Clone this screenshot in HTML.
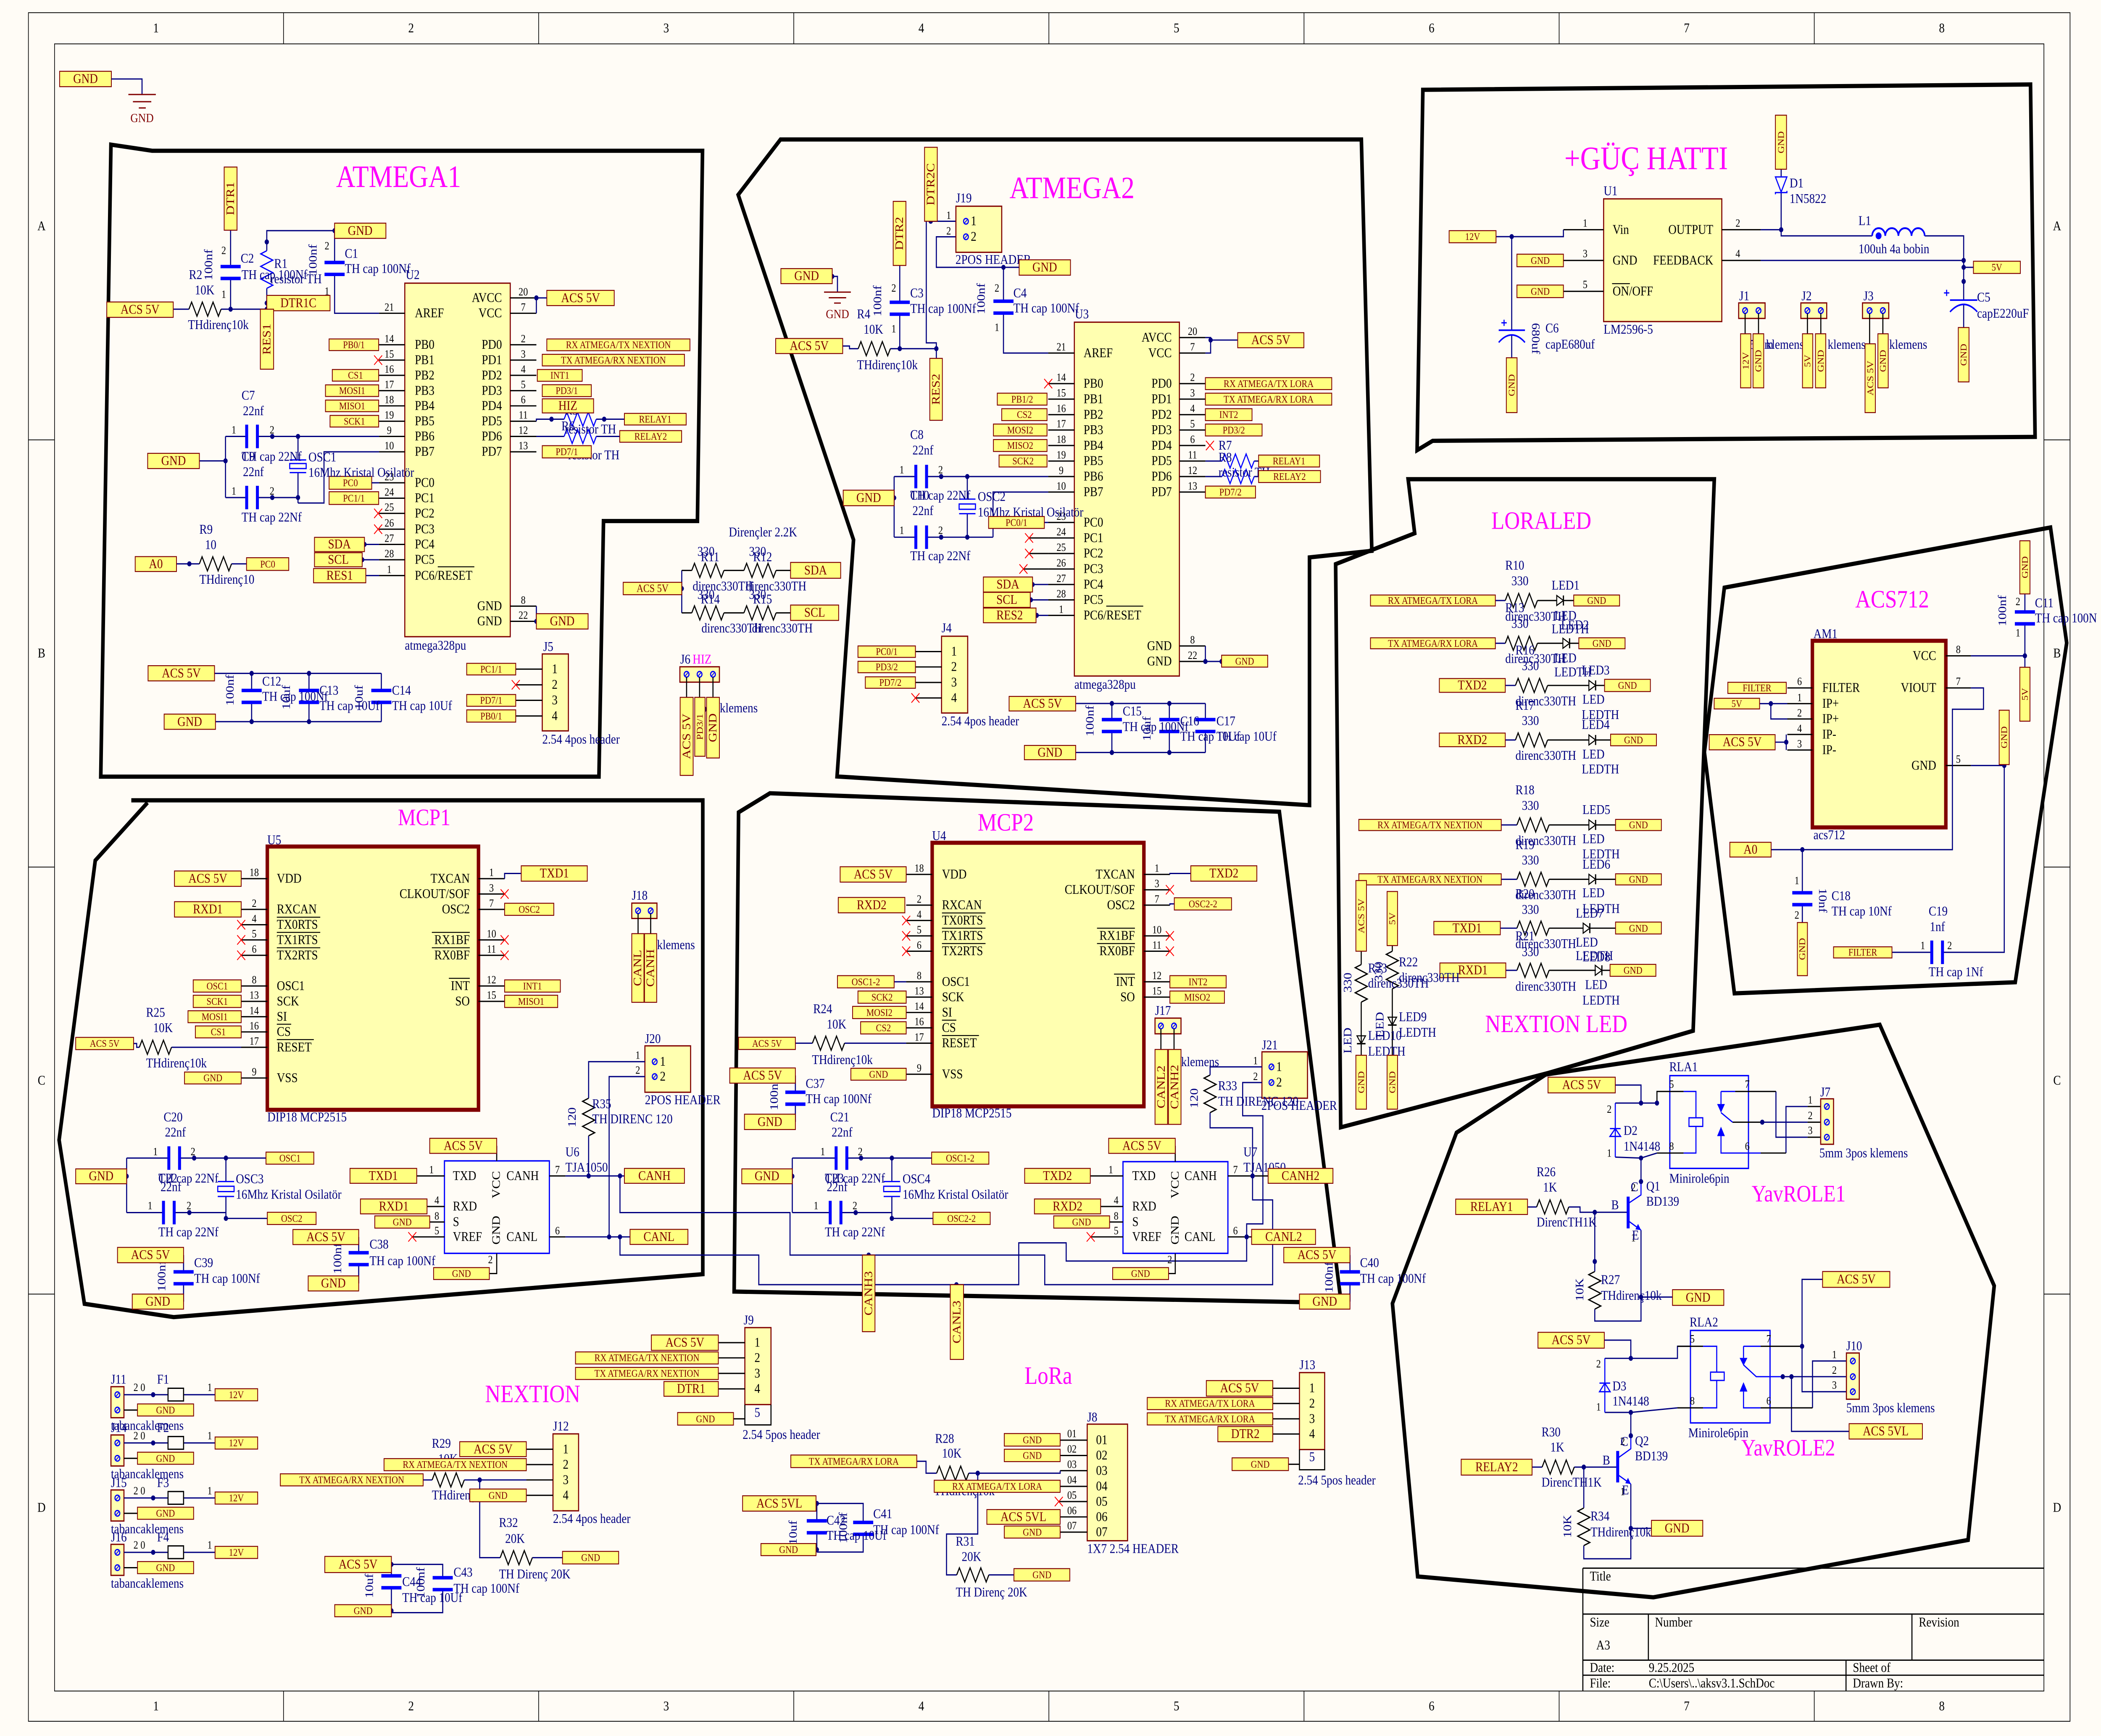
<!DOCTYPE html>
<html><head><meta charset="utf-8"><title>aksv3.1 schematic</title>
<style>
html,body{margin:0;padding:0;background:#fffcf6;overflow:hidden;width:100%;height:100%}
svg{display:block;width:100vw;height:100vh}
text{font-family:"Liberation Serif","DejaVu Serif",serif;font-size:8.5px;fill:#000080;dominant-baseline:central}
.n text{fill:#800000;text-anchor:middle}
.s{font-size:6.5px}
.pn text{fill:#000;font-size:7px;text-anchor:middle}
.pm text{fill:#000}
text.e{text-anchor:end}
text.m{text-anchor:middle}
text.g{fill:#ff00ff}
.ft text{fill:#000}
.w{fill:none;stroke:#000080;stroke-width:.8}
.k{fill:none;stroke:#000;stroke-width:.8}
.b{fill:none;stroke:#0000ff;stroke-width:.8}
.r{fill:#ffff80;stroke:#800000;stroke-width:.6}
.ic{fill:#ffffb0;stroke:#800000;stroke-width:.8}
.icb{fill:#ffffb0;stroke:#800000;stroke-width:2.6}
.rg{fill:none;stroke:#000;stroke-width:2.7;stroke-linejoin:miter}
.f{fill:none;stroke:#000;stroke-width:.5}
.ul{fill:none;stroke:#000;stroke-width:.6}
</style></head><body>
<svg xmlns="http://www.w3.org/2000/svg" viewBox="0 0 1568 1107.8" preserveAspectRatio="none">
<defs>
<path id="rh" d="M0,0l2,-4.5l4,9l4,-9l4,9l4,-9l4,9l2,-4.5" fill="none" stroke="#000" stroke-width=".8"/>
<path id="rhb" d="M0,0l2,-4.5l4,9l4,-9l4,9l4,-9l4,9l2,-4.5" fill="none" stroke="#0000ff" stroke-width=".8"/>
<path id="rv" d="M0,0l-4.5,2l9,4l-9,4l9,4l-9,4l9,4l-4.5,2" fill="none" stroke="#000" stroke-width=".8"/>
<path id="rvb" d="M0,0l-4.5,2l9,4l-9,4l9,4l-9,4l9,4l-4.5,2" fill="none" stroke="#0000ff" stroke-width=".8"/>
<path id="cv" d="M-7.5,-3.8h15M-7.5,3.8h15" fill="none" stroke="#0000ff" stroke-width="2.2"/>
<path id="chz" d="M-4,-7.5v15M4,-7.5v15" fill="none" stroke="#0000ff" stroke-width="2.2"/>
<circle id="d" r="1.6" fill="#000080"/>
<path id="x" d="M-3,-3l6,6M3,-3l-6,6" fill="none" stroke="#ff0000" stroke-width=".6"/>
<g id="pc"><circle r="1.8" fill="none" stroke="#0000ff" stroke-width=".8"/><path d="M-1.2,1.2L1.2,-1.2" stroke="#0000ff" stroke-width=".6"/></g>
<g id="led"><path d="M-2.5,-3.2L2.5,0L-2.5,3.2Z" fill="none" stroke="#000" stroke-width=".7"/><path d="M2.5,-3.2V3.2" stroke="#000" stroke-width=".9"/></g>
</defs>

<!-- ===== FRAME ===== -->
<rect x="21.2" y="8.1" width="1523.7" height="1090.3" class="f"/>
<rect x="40.7" y="28" width="1484.7" height="1051.1" class="f"/>
<path class="f" d="M211.6,8.1V28M402,8.1V28M592.4,8.1V28M782.8,8.1V28M973.2,8.1V28M1163.6,8.1V28M1354,8.1V28M211.6,1079.1V1098.4M402,1079.1V1098.4M592.4,1079.1V1098.4M782.8,1079.1V1098.4M973.2,1079.1V1098.4M1163.6,1079.1V1098.4M1354,1079.1V1098.4M21.2,280.7H40.7M21.2,553.3H40.7M21.2,825.8H40.7M1525.4,280.7H1544.9M1525.4,553.3H1544.9M1525.4,825.8H1544.9"/>
<g class="ft">
<text class="m" x="116.4" y="18">1</text><text class="m" x="306.8" y="18">2</text><text class="m" x="497.2" y="18">3</text><text class="m" x="687.6" y="18">4</text><text class="m" x="878" y="18">5</text><text class="m" x="1068.4" y="18">6</text><text class="m" x="1258.8" y="18">7</text><text class="m" x="1449.2" y="18">8</text>
<text class="m" x="116.4" y="1088.8">1</text><text class="m" x="306.8" y="1088.8">2</text><text class="m" x="497.2" y="1088.8">3</text><text class="m" x="687.6" y="1088.8">4</text><text class="m" x="878" y="1088.8">5</text><text class="m" x="1068.4" y="1088.8">6</text><text class="m" x="1258.8" y="1088.8">7</text><text class="m" x="1449.2" y="1088.8">8</text>
<text class="m" x="31" y="144.4">A</text><text class="m" x="31" y="417">B</text><text class="m" x="31" y="689.6">C</text><text class="m" x="31" y="962.2">D</text>
<text class="m" x="1535.2" y="144.4">A</text><text class="m" x="1535.2" y="417">B</text><text class="m" x="1535.2" y="689.6">C</text><text class="m" x="1535.2" y="962.2">D</text>
</g>

<!-- ===== TITLE BLOCK ===== -->
<path fill="none" stroke="#000" stroke-width=".8" d="M1181.3,1000.7H1525.4M1181.3,1000.7V1079.1M1181.3,1030H1525.4M1181.3,1059.4H1525.4M1181.3,1069H1525.4M1230.2,1030V1059.4M1426.9,1030V1059.4M1377.7,1059.4V1079.1"/>
<g class="ft" style="font-size:8px">
<text x="1186.5" y="1006">Title</text>
<text x="1186.5" y="1035.3">Size</text><text x="1235.1" y="1035.3">Number</text><text x="1432" y="1035.3">Revision</text>
<text x="1191.3" y="1050">A3</text>
<text x="1186.5" y="1064.3">Date:</text><text x="1230.5" y="1064.3">9.25.2025</text><text x="1382.8" y="1064.3">Sheet   of</text>
<text x="1186.5" y="1074.2">File:</text><text x="1230.5" y="1074.2">C:\Users\..\aksv3.1.SchDoc</text><text x="1382.8" y="1074.2">Drawn By:</text>
</g>

<!-- ===== REGION POLYGONS ===== -->
<polygon class="rg" points="82.8,92.3 113.5,96.2 524.3,96.2 520.5,332.5 450.4,332.5 447,495.6 75.2,495.6"/>
<polygon class="rg" points="582.5,89 1016,89 1023.8,351.5 977.3,355.7 977.3,513.8 624.7,495.5 637,344.5 550.9,124.3"/>
<polygon class="rg" points="1061.9,57.3 1515.4,53.9 1518.8,278.8 1069.2,281.3 1057.6,287.3"/>
<polygon class="rg" points="1050.9,305.8 1279.4,305.8 1263.6,657.8 1155.4,684.7 1000.6,719.4 996.8,360 1055.8,340.3"/>
<polygon class="rg" points="1286.9,375 1530.3,336.6 1542.4,410.3 1504,626.8 1294.4,633.9 1272,480"/>
<polyline class="rg" points="98,510.7 524.5,510.7 524.5,813.1 129.6,840.5 63,832 44.1,727.5 71.1,549.1 110.1,512.2"/>
<polygon class="rg" points="574.6,506.2 954.8,518 1001,832 969.8,830.9 547.9,824.2 551.2,518.4"/>
<polygon class="rg" points="1087,722.8 1153.6,685.7 1402.9,653.9 1488.3,820.5 1468.8,982.7 1233.9,1019.3 1058,1006 1039.2,831.8"/>

<!-- ===== TOP-LEFT GND ===== -->
<rect class="r" x="44.5" y="45.5" width="38.6" height="9.8"/>
<path class="w" d="M83.1,50.4H106V60.3"/>
<path d="M95.8,60.3H116.3M99.2,64.9H112.9M103.6,68.9H108.8" stroke="#800000" stroke-width=".8"/>
<g class="n"><text x="63.8" y="50.4">GND</text><text x="106" y="75.4" style="font-size:8px">GND</text></g>

<!-- ===== ATMEGA1 ===== -->
<text class="g" x="250.8" y="112.8" style="font-size:20px">ATMEGA1</text>
<rect class="ic" x="302.1" y="180.7" width="78.7" height="225.6"/>
<path class="k" d="M282.9,199.9h19.2M282.9,220h19.2M282.9,229.8h19.2M282.9,239.5h19.2M282.9,249.3h19.2M282.9,259h19.2M282.9,268.8h19.2M282.9,278.5h19.2M282.9,288.3h19.2M282.9,308.1h19.2M282.9,317.9h19.2M282.9,327.6h19.2M282.9,337.7h19.2M282.9,347.4h19.2M282.9,357.2h19.2M282.9,367.3h19.2M380.8,190.1h19.5M380.8,199.9h19.5M380.8,220h19.5M380.8,229.8h19.5M380.8,239.5h19.5M380.8,249.3h19.5M380.8,259h19.5M380.8,268.8h19.5M380.8,278.5h19.5M380.8,288.3h19.5M380.8,386.8h19.5M380.8,396.5h19.5"/>
<path class="ul" d="M326.7,361.7H354"/>
<g class="pm">
<text x="309.6" y="199.9">AREF</text><text x="309.6" y="220">PB0</text><text x="309.6" y="229.8">PB1</text><text x="309.6" y="239.5">PB2</text><text x="309.6" y="249.3">PB3</text><text x="309.6" y="259">PB4</text><text x="309.6" y="268.8">PB5</text><text x="309.6" y="278.5">PB6</text><text x="309.6" y="288.3">PB7</text><text x="309.6" y="308.1">PC0</text><text x="309.6" y="317.9">PC1</text><text x="309.6" y="327.6">PC2</text><text x="309.6" y="337.7">PC3</text><text x="309.6" y="347.4">PC4</text><text x="309.6" y="357.2">PC5</text><text x="309.6" y="367.3">PC6/RESET</text>
<text class="e" x="374.6" y="190.1">AVCC</text><text class="e" x="374.6" y="199.9">VCC</text><text class="e" x="374.6" y="220">PD0</text><text class="e" x="374.6" y="229.8">PD1</text><text class="e" x="374.6" y="239.5">PD2</text><text class="e" x="374.6" y="249.3">PD3</text><text class="e" x="374.6" y="259">PD4</text><text class="e" x="374.6" y="268.8">PD5</text><text class="e" x="374.6" y="278.5">PD6</text><text class="e" x="374.6" y="288.3">PD7</text><text class="e" x="374.6" y="386.8">GND</text><text class="e" x="374.6" y="396.5">GND</text>
</g>
<g class="pn">
<text x="290.5" y="196.1">21</text><text x="290.5" y="216.2">14</text><text x="290.5" y="226">15</text><text x="290.5" y="235.7">16</text><text x="290.5" y="245.5">17</text><text x="290.5" y="255.2">18</text><text x="290.5" y="265">19</text><text x="290.5" y="274.7">9</text><text x="290.5" y="284.5">10</text><text x="290.5" y="304.3">23</text><text x="290.5" y="314.1">24</text><text x="290.5" y="323.8">25</text><text x="290.5" y="333.9">26</text><text x="290.5" y="343.6">27</text><text x="290.5" y="353.4">28</text><text x="290.5" y="363.5">1</text>
<text x="390.5" y="186.3">20</text><text x="390.5" y="196.1">7</text><text x="390.5" y="216.2">2</text><text x="390.5" y="226">3</text><text x="390.5" y="235.7">4</text><text x="390.5" y="245.5">5</text><text x="390.5" y="255.2">6</text><text x="390.5" y="265">11</text><text x="390.5" y="274.7">12</text><text x="390.5" y="284.5">13</text><text x="390.5" y="383">8</text><text x="390.5" y="392.7">22</text>
</g>
<text x="302.8" y="175.5">U2</text><text x="302.1" y="412">atmega328pu</text>
<path class="w" d="M400.3,199.9V190.1H408.1M400.3,268.8V267.5H421M445,267.5H466M400.3,278.5H421M445,278.5H462.5M400.3,386.8V396.5"/>
<use href="#rhb" x="421" y="267.5"/><use href="#rhb" x="421" y="278.5"/>
<use href="#d" x="400.3" y="190.1"/><use href="#d" x="411.6" y="267.5"/><use href="#d" x="450.9" y="267.5"/><use href="#d" x="400.3" y="396.5"/>
<text x="421.5" y="262">R5</text><text x="419" y="272">R6</text><text x="421.5" y="274">resistor TH</text><text x="424" y="290.5">resistor TH</text>
<rect class="r" x="408.1" y="185.3" width="50.3" height="9.7"/>
<rect class="r" x="408.1" y="216.3" width="106.8" height="7.5"/>
<rect class="r" x="404.7" y="226.1" width="106.1" height="7.4"/>
<rect class="r" x="401" y="235.8" width="33.5" height="7.5"/>
<rect class="r" x="404.7" y="245.5" width="36.6" height="7.6"/>
<rect class="r" x="404.7" y="254.5" width="38.3" height="9"/>
<rect class="r" x="466" y="263.8" width="46.1" height="7.4"/>
<rect class="r" x="462.5" y="274.8" width="46.2" height="7.4"/>
<rect class="r" x="404.7" y="284.4" width="36.6" height="7.8"/>
<rect class="r" x="400.3" y="391.6" width="38.6" height="9.8"/>
<g class="n">
<text x="433.3" y="190.2">ACS 5V</text>
<text class="s" x="461.5" y="220">RX ATMEGA/TX NEXTION</text>
<text class="s" x="457.8" y="229.8">TX ATMEGA/RX NEXTION</text>
<text class="s" x="417.8" y="239.5">INT1</text>
<text class="s" x="423" y="249.3">PD3/1</text>
<text x="423.8" y="259">HIZ</text>
<text class="s" x="489" y="267.5">RELAY1</text>
<text class="s" x="485.6" y="278.5">RELAY2</text>
<text class="s" x="423" y="288.3">PD7/1</text>
<text x="419.6" y="396.5">GND</text>
</g>
<use href="#x" x="282.2" y="229.8"/><use href="#x" x="282.2" y="327.6"/><use href="#x" x="282.2" y="337.7"/>
<rect class="r" x="245.6" y="216.3" width="37" height="7.4"/>
<rect class="r" x="248" y="235.8" width="34.6" height="7.4"/>
<rect class="r" x="242.9" y="245.6" width="39.7" height="7.4"/>
<rect class="r" x="242.9" y="255.3" width="39.7" height="7.4"/>
<rect class="r" x="246.3" y="265.1" width="36.3" height="7.4"/>
<rect class="r" x="245.6" y="304" width="31.8" height="8.2"/>
<rect class="r" x="245.6" y="313.8" width="37" height="8.1"/>
<g class="n">
<text class="s" x="264.1" y="220">PB0/1</text><text class="s" x="265.3" y="239.5">CS1</text><text class="s" x="262.8" y="249.3">MOSI1</text><text class="s" x="262.8" y="259">MISO1</text><text class="s" x="264.5" y="268.8">SCK1</text><text class="s" x="261.5" y="308.1">PC0</text><text class="s" x="264.1" y="317.9">PC1/1</text>
</g>
<path class="w" d="M277.4,308.1H282.9M272,347.4H282.9M270.3,357.2H282.9M273,367.3H282.9"/>
<use href="#d" x="272" y="347.4"/><use href="#d" x="270.3" y="357.2"/>
<rect class="r" x="234.7" y="342.9" width="37.3" height="9.1"/>
<rect class="r" x="234.7" y="352.7" width="35.6" height="9"/>
<rect class="r" x="234" y="362.8" width="39" height="9.1"/>
<g class="n"><text x="253.3" y="347.4">SDA</text><text x="252.5" y="357.2">SCL</text><text x="253.5" y="367.3">RES1</text></g>
<path class="w" d="M148.8,294.1H168.3M168.3,278.5V317.5M168.3,278.5H184M192.2,278.5H282.9M168.3,317.5H184M192.2,317.5H222.4M222.4,278.5V293.5M222.4,301.6V321M282.9,288.3H241.8V321H222.4"/>
<use href="#chz" x="188.1" y="278.5"/><use href="#chz" x="188.1" y="317.5"/>
<use href="#d" x="168.3" y="294.1"/><use href="#d" x="203.2" y="278.5"/><use href="#d" x="222.4" y="278.5"/><use href="#d" x="203.2" y="317.5"/><use href="#d" x="222.4" y="317.5"/>
<rect x="216.2" y="295.8" width="12.3" height="3.2" fill="none" stroke="#0000ff" stroke-width=".8"/>
<path class="b" d="M216.2,293.5H228.5M216.2,301.6H228.5"/>
<text x="180.3" y="252.5">C7</text><text x="181.3" y="262.3">22nf</text><text x="180.3" y="291.5">C9</text><text x="180.3" y="291.5">TH cap 22Nf</text><text x="181.3" y="301.3">22nf</text><text x="180.3" y="330.2">TH cap 22Nf</text><text x="230.2" y="291.9">OSC1</text><text x="230.2" y="301.6">16Mhz Kristal Osilatör</text>
<g class="pn"><text x="174.5" y="274.5">1</text><text x="203" y="274.5">2</text><text x="174.5" y="313.5">1</text><text x="203" y="313.5">2</text></g>
<rect class="r" x="110.2" y="289.3" width="38.6" height="9.7"/>
<g class="n"><text x="129.5" y="294.2">GND</text></g>
<path class="w" d="M131.7,359.8H148.8M172.8,359.8H184"/>
<use href="#rh" x="148.8" y="359.8"/><use href="#d" x="141.3" y="359.8"/>
<rect class="r" x="100.9" y="355.2" width="30.8" height="9.5"/>
<rect class="r" x="184" y="355.9" width="31.5" height="8.1"/>
<g class="n"><text x="116.3" y="360">A0</text><text class="s" x="199.8" y="360">PC0</text></g>
<text x="148.8" y="338">R9</text><text x="153" y="347.8">10</text><text x="148.8" y="369.9">THdirenç10</text>
<path class="w" d="M172.1,146.9V169M172.1,178.5V197.3M129.3,197.3H141M165,197.3H199.1M199.1,154.4V147.2H249.7M199.1,154.4V160M199.1,184V197.3M249.7,147.2V167.5M249.7,175.1V199.9H282.9"/>
<use href="#cv" x="172.1" y="173.9"/><use href="#cv" x="249.7" y="171.3"/>
<use href="#rh" x="141" y="197.3"/><use href="#rvb" x="199.1" y="160"/>
<use href="#d" x="172.1" y="197.3"/><use href="#d" x="199.1" y="197.3"/><use href="#d" x="199.1" y="193.4"/><use href="#d" x="199.1" y="154.4"/><use href="#d" x="249.7" y="147.2"/>
<text x="141" y="175.5">R2</text><text x="145.4" y="185.3">10K</text><text class="m" transform="rotate(-90 155.7 169)" x="155.7" y="169">100nf</text><text x="179.6" y="165">C2</text><text x="180.3" y="175.5">TH cap 100Nf</text><text x="204.6" y="168.4">R1</text><text x="201.8" y="178.1">resistor TH</text><text x="140.3" y="207.4">THdirenç10k</text><text class="m" transform="rotate(-90 233.7 165.8)" x="233.7" y="165.8">100nf</text><text x="257.3" y="161.9">C1</text><text x="257.3" y="171.6">TH cap 100Nf</text>
<g class="pn"><text x="167" y="160">2</text><text x="167" y="188">1</text><text x="244" y="157">2</text><text x="244" y="186">1</text></g>
<rect class="r" x="167.3" y="106.6" width="9.6" height="40.3"/>
<rect class="r" x="79.7" y="192.7" width="49.6" height="9.8"/>
<rect class="r" x="249.7" y="142.4" width="38.3" height="9.7"/>
<rect class="r" x="199.1" y="188.5" width="47.2" height="9.8"/>
<rect class="r" x="194.3" y="197.3" width="9.9" height="38.3"/>
<g class="n">
<text transform="rotate(-90 172.1 126.7)" x="172.1" y="126.7">DTR1</text>
<text x="104.5" y="197.6">ACS 5V</text><text x="268.8" y="147.3">GND</text><text x="222.7" y="193.4">DTR1C</text>
<text transform="rotate(-90 199.2 216.4)" x="199.2" y="216.4">RES1</text>
</g>
<path class="w" d="M160.1,429.7H284.6M160.8,460.5H284.6M187.8,429.7V440.6M187.8,448.2V460.5M230.6,429.7V440.6M230.6,448.2V460.5M284.6,429.7V440.6M284.6,448.2V460.5"/>
<use href="#cv" x="187.8" y="444.4"/><use href="#cv" x="230.6" y="444.4"/><use href="#cv" x="284.6" y="444.4"/>
<use href="#d" x="187.8" y="429.7"/><use href="#d" x="230.6" y="429.7"/><use href="#d" x="187.8" y="460.5"/><use href="#d" x="230.6" y="460.5"/>
<text class="m" transform="rotate(-90 171.7 440.4)" x="171.7" y="440.4">100nf</text><text x="195.7" y="434.9">C12</text><text x="195.7" y="444.6">TH cap 100Nf</text><text class="m" transform="rotate(-90 213.8 445)" x="213.8" y="445">10uf</text><text x="238.4" y="440.7">C13</text><text x="238.4" y="450.5">TH cap 10Uf</text><text class="m" transform="rotate(-90 268 445)" x="268" y="445">10uf</text><text x="292.5" y="440.7">C14</text><text x="292.5" y="450.5">TH cap 10Uf</text>
<rect class="r" x="110.5" y="424.8" width="49.6" height="9.7"/>
<rect class="r" x="122.5" y="455.7" width="38.3" height="9.7"/>
<g class="n"><text x="135.3" y="429.7">ACS 5V</text><text x="141.6" y="460.6">GND</text></g>
<rect class="ic" x="404.7" y="417.3" width="19.5" height="49.1"/>
<path class="k" d="M384.9,427H404.7M384.9,437H404.7M384.9,446.9H404.7M384.9,456.9H404.7"/>
<g class="pm"><text class="m" x="414" y="427">1</text><text class="m" x="414" y="437">2</text><text class="m" x="414" y="446.9">3</text><text class="m" x="414" y="456.9">4</text></g>
<use href="#x" x="384.9" y="437"/>
<rect class="r" x="348.3" y="423.3" width="36.6" height="7.4"/>
<rect class="r" x="348.3" y="443.2" width="36.6" height="7.5"/>
<rect class="r" x="348.3" y="453" width="36.6" height="7.8"/>
<g class="n"><text class="s" x="366.6" y="427">PC1/1</text><text class="s" x="366.6" y="446.9">PD7/1</text><text class="s" x="366.6" y="456.9">PB0/1</text></g>
<text x="405.4" y="412.8">J5</text><text x="404.7" y="471.9">2.54 4pos header</text>

<!-- ===== MIDDLE: pull-ups + J6 ===== -->
<text x="543.9" y="339.7">Dirençler 2.2K</text>
<path class="w" d="M508.8,364V391.1M504,375.6H508.8"/>
<path class="k" d="M508.8,364H516.3M540.3,364H555.2M579.2,364H590M508.8,391.1H516.3M540.3,391.1H555.2M579.2,391.1H590"/>
<use href="#rh" x="516.3" y="364"/><use href="#rh" x="555.2" y="364"/><use href="#rh" x="516.3" y="391.1"/><use href="#rh" x="555.2" y="391.1"/>
<use href="#d" x="508.8" y="375.6"/>
<text x="520.5" y="352">330</text><text x="523" y="355.5">R11</text><text x="559" y="352">330</text><text x="562" y="355.5">R12</text>
<text x="516.9" y="374.2">direnc330TH</text><text x="556.5" y="374.2">direnc330TH</text>
<text x="520.5" y="379.5">330</text><text x="523" y="382.5">R14</text><text x="559" y="379.5">330</text><text x="562" y="382.5">R15</text>
<text x="523.5" y="401">direnc330TH</text><text x="561.2" y="401">direnc330TH</text>
<rect class="r" x="465.1" y="371.6" width="43.7" height="7.9"/>
<rect class="r" x="590" y="358.9" width="37.4" height="10.1"/>
<rect class="r" x="590" y="386.1" width="35.9" height="9.8"/>
<g class="n"><text class="s" x="487" y="375.6" style="font-size:7px">ACS 5V</text><text x="608.7" y="364">SDA</text><text x="608" y="391">SCL</text></g>
<text x="507.7" y="420.9">J6</text><text class="g" x="516.9" y="420.9">HIZ</text>
<text x="519" y="452">3pos klemens</text>
<rect class="ic" x="507.4" y="425.5" width="29.5" height="9.8"/>
<use href="#pc" x="512.4" y="430.3"/><use href="#pc" x="522.1" y="430.3"/><use href="#pc" x="532.1" y="430.3"/>
<path class="k" d="M512.4,432.1V445M522.1,432.1V445M532.1,432.1V445"/>
<rect class="r" x="507.6" y="445" width="9.7" height="49.8"/>
<rect class="r" x="518.5" y="445" width="7.7" height="37.6"/>
<rect class="r" x="527.3" y="445" width="9.6" height="38.7"/>
<g class="n">
<text transform="rotate(-90 512.5 469.9)" x="512.5" y="469.9">ACS 5V</text>
<text class="s" transform="rotate(-90 522.4 463.8)" x="522.4" y="463.8">PD3/1</text>
<text transform="rotate(-90 532.1 464.4)" x="532.1" y="464.4">GND</text>
</g>

<!-- ===== ATMEGA2 ===== -->
<text class="g" x="753.4" y="120" style="font-size:20px">ATMEGA2</text>
<rect class="ic" x="801.8" y="205.6" width="78.4" height="225.8"/>
<path class="k" d="M782.3,225.3h19.5M782.3,244.8h19.5M782.3,254.7h19.5M782.3,264.6h19.5M782.3,274.4h19.5M782.3,284.3h19.5M782.3,294.2h19.5M782.3,304.1h19.5M782.3,314h19.5M782.3,333.4h19.5M782.3,343.3h19.5M782.3,353.2h19.5M782.3,363.1h19.5M782.3,373h19.5M782.3,382.8h19.5M782.3,392.7h19.5M880.2,215.4h19.4M880.2,225.3h19.4M880.2,244.8h19.4M880.2,254.7h19.4M880.2,264.6h19.4M880.2,274.4h19.4M880.2,284.3h19.4M880.2,294.2h19.4M880.2,304.1h19.4M880.2,314h19.4M880.2,412.2h19.4M880.2,422.1h19.4"/>
<path class="ul" d="M825.6,386.8H853.2"/>
<g class="pm">
<text x="808.7" y="225.3">AREF</text><text x="808.7" y="244.8">PB0</text><text x="808.7" y="254.7">PB1</text><text x="808.7" y="264.6">PB2</text><text x="808.7" y="274.4">PB3</text><text x="808.7" y="284.3">PB4</text><text x="808.7" y="294.2">PB5</text><text x="808.7" y="304.1">PB6</text><text x="808.7" y="314">PB7</text><text x="808.7" y="333.4">PC0</text><text x="808.7" y="343.3">PC1</text><text x="808.7" y="353.2">PC2</text><text x="808.7" y="363.1">PC3</text><text x="808.7" y="373">PC4</text><text x="808.7" y="382.8">PC5</text><text x="808.7" y="392.7">PC6/RESET</text>
<text class="e" x="874.5" y="215.4">AVCC</text><text class="e" x="874.5" y="225.3">VCC</text><text class="e" x="874.5" y="244.8">PD0</text><text class="e" x="874.5" y="254.7">PD1</text><text class="e" x="874.5" y="264.6">PD2</text><text class="e" x="874.5" y="274.4">PD3</text><text class="e" x="874.5" y="284.3">PD4</text><text class="e" x="874.5" y="294.2">PD5</text><text class="e" x="874.5" y="304.1">PD6</text><text class="e" x="874.5" y="314">PD7</text><text class="e" x="874.5" y="412.2">GND</text><text class="e" x="874.5" y="422.1">GND</text>
</g>
<g class="pn">
<text x="792" y="221.5">21</text><text x="792" y="241">14</text><text x="792" y="250.9">15</text><text x="792" y="260.8">16</text><text x="792" y="270.6">17</text><text x="792" y="280.5">18</text><text x="792" y="290.4">19</text><text x="792" y="300.3">9</text><text x="792" y="310.2">10</text><text x="792" y="329.6">23</text><text x="792" y="339.5">24</text><text x="792" y="349.4">25</text><text x="792" y="359.3">26</text><text x="792" y="369.2">27</text><text x="792" y="379">28</text><text x="792" y="388.9">1</text>
<text x="890" y="211.6">20</text><text x="890" y="221.5">7</text><text x="890" y="241">2</text><text x="890" y="250.9">3</text><text x="890" y="260.8">4</text><text x="890" y="270.6">5</text><text x="890" y="280.5">6</text><text x="890" y="290.4">11</text><text x="890" y="300.3">12</text><text x="890" y="310.2">13</text><text x="890" y="408.4">8</text><text x="890" y="418.3">22</text>
</g>
<text x="802.2" y="200.5">U3</text><text x="801.8" y="437">atmega328pu</text>
<path class="w" d="M899.6,215.4H903.5V225.3H899.6M903.5,217H923.7M899.6,294.2H912M936,294.2H939.3M899.6,304.1H912M936,304.1H939.3M899.6,412.2V422.1H911.7"/>
<use href="#rhb" x="912" y="294.2"/><use href="#rhb" x="912" y="304.1"/>
<use href="#d" x="903.5" y="217"/><use href="#d" x="899.6" y="422.1"/><use href="#d" x="911.7" y="422.1"/>
<use href="#x" x="903" y="284.3"/>
<text x="909.4" y="284.3">R7</text><text x="909.4" y="292">R8</text><text x="909.4" y="301.5">resistor TH</text>
<rect class="r" x="923.7" y="212.3" width="49.4" height="9.6"/>
<rect class="r" x="899.6" y="241" width="94.3" height="7.6"/>
<rect class="r" x="899.6" y="250.9" width="94.3" height="7.6"/>
<rect class="r" x="899.6" y="260.8" width="34.8" height="7.6"/>
<rect class="r" x="899.6" y="270.6" width="42.3" height="7.6"/>
<rect class="r" x="939.3" y="290.4" width="45.5" height="7.6"/>
<rect class="r" x="939.3" y="300.3" width="46.2" height="7.6"/>
<rect class="r" x="899.6" y="310.2" width="37.4" height="7.6"/>
<rect class="r" x="911.7" y="418.1" width="34.4" height="7.6"/>
<g class="n">
<text x="948.4" y="217.1">ACS 5V</text>
<text class="s" x="946.8" y="244.8">RX ATMEGA/TX LORA</text>
<text class="s" x="946.8" y="254.7">TX ATMEGA/RX LORA</text>
<text class="s" x="917" y="264.6">INT2</text>
<text class="s" x="920.8" y="274.4">PD3/2</text>
<text class="s" x="962" y="294.2">RELAY1</text>
<text class="s" x="962.4" y="304.1">RELAY2</text>
<text class="s" x="918.3" y="314">PD7/2</text>
<text class="s" x="928.9" y="421.9">GND</text>
</g>
<use href="#x" x="782.3" y="244.8"/>
<rect class="r" x="744.3" y="250.9" width="37.1" height="7.6"/>
<rect class="r" x="747.6" y="260.8" width="33.8" height="7.6"/>
<rect class="r" x="741.4" y="270.6" width="40" height="7.6"/>
<rect class="r" x="741.4" y="280.5" width="40" height="7.6"/>
<rect class="r" x="745.6" y="290.4" width="35.8" height="7.6"/>
<g class="n"><text class="s" x="762.9" y="254.7">PB1/2</text><text class="s" x="764.5" y="264.6">CS2</text><text class="s" x="761.4" y="274.4">MOSI2</text><text class="s" x="761.4" y="284.3">MISO2</text><text class="s" x="763.5" y="294.2">SCK2</text></g>
<path class="w" d="M667.3,304.1V342.8M667.3,304.1H683.5M691.5,304.1H782.3M667.3,342.8H683.5M691.5,342.8H741.1M721.9,304.1V318.5M721.9,327.8V342.8M782.3,314H741.1V342.8"/>
<use href="#chz" x="687.5" y="304.1"/><use href="#chz" x="687.5" y="342.8"/>
<use href="#d" x="667.3" y="317.7"/><use href="#d" x="702.4" y="304.1"/><use href="#d" x="721.9" y="304.1"/><use href="#d" x="702.4" y="342.8"/><use href="#d" x="721.9" y="342.8"/>
<rect x="715.8" y="321.6" width="12.2" height="3.4" fill="none" stroke="#0000ff" stroke-width=".8"/>
<path class="b" d="M715.8,318.5H728M715.8,327.8H728"/>
<text x="679.3" y="277.5">C8</text><text x="681" y="287.4">22nf</text><text x="679.3" y="316.2">C10</text><text x="679.3" y="316.2">TH cap 22Nf</text><text x="681" y="326.1">22nf</text><text x="679.3" y="354.9">TH cap 22Nf</text><text x="729.7" y="317.1">OSC2</text><text x="729.7" y="327">16Mhz Kristal Osilatör</text>
<g class="pn"><text x="673" y="300">1</text><text x="702" y="300">2</text><text x="673" y="338.5">1</text><text x="702" y="338.5">2</text></g>
<rect class="r" x="629.3" y="312.8" width="38" height="9.9"/>
<g class="n"><text x="648.3" y="317.7">GND</text></g>
<path class="w" d="M779.4,333.4H782.3M770.6,373H782.3M769.3,382.8H782.3M773.7,392.7H782.3"/>
<path class="k" d="M768,343.3H782.3M768,353.2H782.3M763.8,363.1H782.3"/>
<use href="#x" x="768" y="343.3"/><use href="#x" x="768" y="353.2"/><use href="#x" x="763.8" y="363.1"/>
<use href="#d" x="770.6" y="373"/><use href="#d" x="769.3" y="382.8"/><use href="#d" x="773.7" y="392.7"/>
<rect class="r" x="737.8" y="329.6" width="41.6" height="7.6"/>
<rect class="r" x="733.9" y="368.2" width="36.7" height="9.6"/>
<rect class="r" x="733.9" y="378" width="35" height="9.6"/>
<rect class="r" x="733.9" y="388" width="39.3" height="9.4"/>
<g class="n"><text class="s" x="758.6" y="333.4">PC0/1</text><text x="752.2" y="373">SDA</text><text x="751.4" y="382.8">SCL</text><text x="753.5" y="392.7">RES2</text></g>
<path class="w" d="M671.5,169.4V192.9M671.5,200.5V222.5M628.9,220.8H634V222.5H640.5M664.5,222.5H698.8M694.6,141.2H713.4M691.3,141.2V218.8H698.8V228.7M713.4,151.1H698.8V170.6H760.6M748.9,170.6V192.2M748.9,199.8V225.3H782.3M621.1,176.4H625V186.4"/>
<use href="#cv" x="671.5" y="196.7"/><use href="#cv" x="748.9" y="196"/>
<use href="#rh" x="640.5" y="222.5"/>
<use href="#d" x="671.5" y="222.5"/><use href="#d" x="698.8" y="222.5"/><use href="#d" x="694.6" y="141.2"/><use href="#d" x="748.9" y="170.6"/><use href="#d" x="621.1" y="176.4"/>
<path d="M615,186.4H635M618.5,190H631.5M622.5,193.4H627.5" stroke="#800000" stroke-width=".8"/>
<text x="639.6" y="200.5">R4</text><text x="644.5" y="210.4">10K</text><text class="m" transform="rotate(-90 655 192)" x="655" y="192">100nf</text><text x="679.3" y="187.2">C3</text><text x="679.3" y="197.1">TH cap 100Nf</text><text x="639.6" y="233">THdirenç10k</text><text class="m" transform="rotate(-90 732.3 190.6)" x="732.3" y="190.6">100nf</text><text x="756.3" y="187.2">C4</text><text x="756.3" y="196.8">TH cap 100Nf</text><text x="713.4" y="126.5">J19</text><text x="713.1" y="165.8">2POS HEADER</text>
<g class="pn"><text x="667" y="184">2</text><text x="667" y="210">1</text><text x="744" y="184">2</text><text x="744" y="209">1</text><text x="708" y="137.5">1</text><text x="708" y="147.5">2</text></g>
<rect class="ic" x="713.4" y="131.6" width="34.2" height="29.4"/>
<use href="#pc" x="720.9" y="141.2"/><use href="#pc" x="720.9" y="151.1"/>
<g class="pm"><text x="724.5" y="141.2">1</text><text x="724.5" y="151.1">2</text></g>
<rect class="r" x="666.6" y="128.5" width="9.5" height="40.9"/>
<rect class="r" x="690" y="94" width="9.5" height="47.2"/>
<rect class="r" x="693.9" y="228.7" width="9.4" height="39.5"/>
<rect class="r" x="578.9" y="216" width="50" height="9.6"/>
<rect class="r" x="760.6" y="165.8" width="38.3" height="9.8"/>
<rect class="r" x="582.8" y="171.4" width="38.3" height="9.6"/>
<g class="n">
<text transform="rotate(-90 671.4 149)" x="671.4" y="149">DTR2</text>
<text transform="rotate(-90 694.7 117.6)" x="694.7" y="117.6">DTR2C</text>
<text transform="rotate(-90 698.6 248.4)" x="698.6" y="248.4">RES2</text>
<text x="603.9" y="220.8">ACS 5V</text><text x="779.7" y="170.7">GND</text><text x="602" y="176.2">GND</text>
<text x="625" y="200.5" style="font-size:8px">GND</text>
</g>
<rect class="ic" x="702.7" y="406" width="19.5" height="49"/>
<path class="k" d="M683.2,415.8H702.7M683.2,425.6H702.7M683.2,435.5H702.7M683.2,445.4H702.7"/>
<g class="pm"><text class="m" x="712" y="415.8">1</text><text class="m" x="712" y="425.6">2</text><text class="m" x="712" y="435.5">3</text><text class="m" x="712" y="445.4">4</text></g>
<use href="#x" x="683.2" y="445.4"/>
<rect class="r" x="640.3" y="412.2" width="42.9" height="7.3"/>
<rect class="r" x="640.3" y="422" width="42.9" height="7.3"/>
<rect class="r" x="645.8" y="431.9" width="37.4" height="7.3"/>
<g class="n"><text class="s" x="661.8" y="415.8">PC0/1</text><text class="s" x="661.8" y="425.6">PD3/2</text><text class="s" x="664.5" y="435.5">PD7/2</text></g>
<text x="702.7" y="400.9">J4</text><text x="702.7" y="460.2">2.54 4pos header</text>
<path class="w" d="M802.8,448.9H899.6M802.8,480.2H899.6M829.8,448.9V459.2M829.8,466.8V480.2M872.7,448.9V459.2M872.7,466.8V480.2M899.6,448.9V459.2M899.6,466.8V480.2"/>
<use href="#cv" x="829.8" y="463"/><use href="#cv" x="872.7" y="463"/><use href="#cv" x="899.6" y="463"/>
<use href="#d" x="829.8" y="448.9"/><use href="#d" x="872.7" y="448.9"/><use href="#d" x="829.8" y="480.2"/><use href="#d" x="872.7" y="480.2"/>
<text class="m" transform="rotate(-90 813.5 460)" x="813.5" y="460">100nf</text><text x="837.9" y="454">C15</text><text x="837.9" y="463.9">TH cap 100Nf</text><text class="m" transform="rotate(-90 856 465)" x="856" y="465">10uf</text><text x="880.8" y="460.2">C16</text><text x="880.8" y="470">TH cap 10Uf</text><text x="907.8" y="460.2">C17</text><text x="907.8" y="470">TH cap 10Uf</text>
<rect class="r" x="753.1" y="444.4" width="49.7" height="9.3"/>
<rect class="r" x="764.5" y="475.7" width="38.3" height="9.1"/>
<g class="n"><text x="778" y="449">ACS 5V</text><text x="783.6" y="480.2">GND</text></g>

<!-- ===== POWER ===== -->
<text class="g" x="1167.5" y="100.9" style="font-size:21px">+GÜÇ HATTI</text>
<rect class="ic" x="1196.8" y="126.9" width="88.2" height="78.3"/>
<path class="k" d="M1166.8,146.6H1196.8M1166.8,166.2H1196.8M1166.8,185.9H1196.8M1285,146.6H1314M1285,166.2H1314"/>
<path class="ul" d="M1203.1,181H1216.4"/>
<g class="pm"><text x="1203.5" y="146.6">Vin</text><text x="1203.5" y="166.2">GND</text><text x="1203.5" y="185.9">ON/OFF</text><text class="e" x="1278.6" y="146.6">OUTPUT</text><text class="e" x="1278.6" y="166.2">FEEDBACK</text></g>
<g class="pn"><text x="1183" y="142.5">1</text><text x="1183" y="162">3</text><text x="1183" y="181.7">5</text><text x="1297" y="142.5">2</text><text x="1297" y="162">4</text></g>
<text x="1196.8" y="122">U1</text><text x="1196.8" y="210.3">LM2596-5</text>
<path class="w" d="M1116.5,151H1166.8V146.6M1128.2,151V210.7M1128.2,214V228.3M1314,146.6H1329.3M1329.3,108V112.9M1329.3,123V150.5H1397.2M1436.4,150.5H1465.5V191.5M1314,166.2H1465.5M1465.5,170.6H1472.8M1465.5,194.5V209"/>
<use href="#d" x="1128.2" y="151"/><use href="#d" x="1329.3" y="146.6"/><use href="#d" x="1465.5" y="166.2"/><use href="#d" x="1465.5" y="170.6"/><use href="#d" x="1465.5" y="179.6"/>
<path d="M1118.5,210.7H1138.1M1455.3,191.5H1475.7" stroke="#0000ff" stroke-width="1"/>
<path d="M1118.5,218.5Q1128.2,209 1138.1,218.5M1455.3,199Q1465.5,189.5 1475.7,199" fill="none" stroke="#0000ff" stroke-width="1"/>
<path d="M1120.5,206H1124.5M1122.5,204V208M1450.8,186.9H1454.8M1452.8,184.9V188.9" stroke="#0000ff" stroke-width=".8"/>
<path d="M1325,112.9H1333.6L1329.3,122.5Z" fill="none" stroke="#0000ff" stroke-width=".8"/>
<path d="M1325,124V122.9H1333.6V121.8" fill="none" stroke="#0000ff" stroke-width=".8"/>
<path d="M1397.2,150.5a4.9,4.9 0 0 1 9.8,0a4.9,4.9 0 0 1 9.8,0a4.9,4.9 0 0 1 9.8,0a4.9,4.9 0 0 1 9.8,0" fill="none" stroke="#0000ff" stroke-width="1.2"/>
<circle cx="1402" cy="150.5" r="2.2" fill="#0000ff"/>
<text x="1153.4" y="209.5">C6</text><text x="1153.4" y="219.8">capE680uf</text><text class="m" transform="rotate(90 1146 216)" x="1146" y="216">680uf</text>
<text x="1335.6" y="117">D1</text><text x="1335.6" y="127">1N5822</text>
<text x="1387" y="141">L1</text><text x="1387" y="159">100uh 4a bobin</text>
<text x="1475.5" y="189.8">C5</text><text x="1475.5" y="200.1">capE220uF</text>
<rect class="r" x="1081.5" y="147.2" width="35" height="7.7"/>
<rect class="r" x="1124.2" y="228.3" width="8" height="35"/>
<rect class="r" x="1132.1" y="162.2" width="34.7" height="8"/>
<rect class="r" x="1132.1" y="181.9" width="34.7" height="8"/>
<rect class="r" x="1325" y="73.5" width="8.3" height="34.5"/>
<rect class="r" x="1472.8" y="166.7" width="35" height="7.8"/>
<rect class="r" x="1461.5" y="209" width="8" height="34.7"/>
<g class="n">
<text class="s" x="1099" y="151">12V</text>
<text class="s" transform="rotate(-90 1128.2 245.8)" x="1128.2" y="245.8">GND</text>
<text class="s" x="1149.5" y="166.2">GND</text><text class="s" x="1149.5" y="185.9">GND</text>
<text class="s" transform="rotate(-90 1329.2 90.8)" x="1329.2" y="90.8">GND</text>
<text class="s" x="1490.3" y="170.6">5V</text>
<text class="s" transform="rotate(-90 1465.5 226.4)" x="1465.5" y="226.4">GND</text>
</g>
<text x="1306" y="220">5mm</text><text x="1318" y="220">klemens</text><text x="1364" y="220">klemens</text><text x="1410" y="220">klemens</text>
<rect class="ic" x="1297.6" y="193.3" width="19.7" height="9.9"/><rect class="ic" x="1344" y="193.3" width="19.3" height="9.9"/><rect class="ic" x="1390" y="193.3" width="19.6" height="9.9"/>
<use href="#pc" x="1302.4" y="198.2"/><use href="#pc" x="1312.4" y="198.2"/><use href="#pc" x="1348.9" y="198.2"/><use href="#pc" x="1358.9" y="198.2"/><use href="#pc" x="1395.3" y="198.2"/><use href="#pc" x="1405.2" y="198.2"/>
<path class="k" d="M1302.4,200V213M1312.4,200V213M1348.9,200V213M1358.9,200V213M1395.3,200V219.4M1405.2,200V213"/>
<text x="1298" y="189">J1</text><text x="1344.5" y="189">J2</text><text x="1390.7" y="189">J3</text>
<rect class="r" x="1299" y="213" width="7.7" height="34.5"/><rect class="r" x="1308.3" y="213" width="8" height="34.5"/>
<rect class="r" x="1345.2" y="213" width="7.7" height="34.5"/><rect class="r" x="1354.9" y="213" width="7.7" height="34.5"/>
<rect class="r" x="1391.9" y="219.4" width="7.7" height="43.9"/><rect class="r" x="1401.5" y="213" width="7.7" height="34.5"/>
<g class="n">
<text class="s" transform="rotate(-90 1302.9 230.3)" x="1302.9" y="230.3">12V</text><text class="s" transform="rotate(-90 1312.3 230.3)" x="1312.3" y="230.3">GND</text>
<text class="s" transform="rotate(-90 1349 230.3)" x="1349" y="230.3">5V</text><text class="s" transform="rotate(-90 1358.8 230.3)" x="1358.8" y="230.3">GND</text>
<text class="s" transform="rotate(-90 1395.8 241.3)" x="1395.8" y="241.3">ACS 5V</text><text class="s" transform="rotate(-90 1405.3 230.3)" x="1405.3" y="230.3">GND</text>
</g>

<!-- ===== LORALED ===== -->
<text class="g" x="1113" y="332.4" style="font-size:16px">LORALED</text>
<path class="w" d="M1116,383.2H1123.4M1116,410.5H1123.4M1123.4,437.4H1131M1123.4,472.2H1131M1120.4,526.4H1132.1M1120.4,561.1H1132.1M1119.7,592.3H1132.1M1123.8,619.2H1132.1"/>
<path class="k" d="M1147.4,383.2H1162M1166.6,383.2H1174.5M1147.4,410.5H1166.6M1171.2,410.5H1178.3M1155,437.4H1186M1190.5,437.4H1197.5M1155,472.2H1186M1190.5,472.2H1202M1156.1,526.4H1186M1190.5,526.4H1205.7M1156.1,561.1H1186M1190.5,561.1H1205.7M1156.1,592.3H1181.7M1186.2,592.3H1205.7M1156.1,619.2H1191M1194.8,619.2H1201.6"/>
<use href="#rh" x="1123.4" y="383.2"/><use href="#rh" x="1123.4" y="410.5"/><use href="#rh" x="1131" y="437.4"/><use href="#rh" x="1131" y="472.2"/><use href="#rh" x="1132.1" y="526.4"/><use href="#rh" x="1132.1" y="561.1"/><use href="#rh" x="1132.1" y="592.3"/><use href="#rh" x="1132.1" y="619.2"/>
<use href="#led" x="1164.3" y="383.2"/><use href="#led" x="1168.9" y="410.5"/><use href="#led" x="1188.3" y="437.4"/><use href="#led" x="1188.3" y="472.2"/><use href="#led" x="1188.3" y="526.4"/><use href="#led" x="1188.3" y="561.1"/><use href="#led" x="1184" y="592.3"/><use href="#led" x="1193" y="619.2"/>
<text x="1123.4" y="360.9">R10</text><text x="1128" y="370.8">330</text><text x="1158" y="373.6">LED1</text>
<text x="1123.4" y="388">R13</text><text x="1123.4" y="393.5">direnc330TH</text><text x="1128" y="398">330</text><text x="1165" y="399">LED2</text><text x="1158" y="401.5">LEDTH</text><text x="1160" y="393">LED</text>
<text x="1131" y="415.1">R16</text><text x="1123.4" y="420.5">direnc330TH</text><text x="1135.8" y="425">330</text><text x="1180.5" y="427.8">LED3</text><text x="1160" y="420">LED</text><text x="1160" y="429">LEDTH</text>
<text x="1131" y="447.5">direnc330TH</text><text x="1181" y="446.5">LED</text><text x="1180.5" y="456.3">LEDTH</text><text x="1131" y="450.3">R17</text><text x="1135.8" y="460">330</text><text x="1180.5" y="462.6">LED4</text>
<text x="1131" y="482.2">direnc330TH</text><text x="1181" y="481.5">LED</text><text x="1180.5" y="491">LEDTH</text>
<text x="1131" y="504.3">R18</text><text x="1135.8" y="514.2">330</text><text x="1181" y="516.9">LED5</text><text x="1131" y="536.5">direnc330TH</text><text x="1181" y="535.5">LED</text><text x="1181" y="545.2">LEDTH</text>
<text x="1131" y="539.3">R19</text><text x="1135.8" y="549">330</text><text x="1181" y="551.7">LED6</text><text x="1131" y="571.2">direnc330TH</text><text x="1181" y="570">LED</text><text x="1181" y="580">LEDTH</text>
<text x="1131" y="570.5">R20</text><text x="1135.8" y="580.5">330</text><text x="1176" y="583">LED7</text><text x="1131" y="602.4">direnc330TH</text><text x="1176" y="601.5">LED</text><text x="1176" y="610">LEDTH</text>
<text x="1131" y="597.5">R21</text><text x="1135.8" y="607.5">330</text><text x="1181" y="610.8">LED8</text><text x="1131" y="629.6">direnc330TH</text><text x="1183" y="628.5">LED</text><text x="1181" y="638.4">LEDTH</text>
<rect class="r" x="1022.8" y="379.7" width="93.2" height="7"/>
<rect class="r" x="1174.5" y="379.7" width="34.2" height="7"/>
<rect class="r" x="1022.8" y="407" width="93.2" height="7"/>
<rect class="r" x="1178.3" y="407" width="34.5" height="7"/>
<rect class="r" x="1074.2" y="433" width="49.2" height="8.8"/>
<rect class="r" x="1197.5" y="433.5" width="34.2" height="7.8"/>
<rect class="r" x="1074.2" y="467.8" width="49.2" height="8.7"/>
<rect class="r" x="1202" y="468.5" width="34.2" height="7.4"/>
<rect class="r" x="1014.1" y="522.9" width="106.3" height="7.1"/>
<rect class="r" x="1205.7" y="522.9" width="34.2" height="7.1"/>
<rect class="r" x="1014.1" y="557.6" width="106.3" height="7.1"/>
<rect class="r" x="1205.7" y="557.6" width="34.2" height="7.1"/>
<rect class="r" x="1070.1" y="588" width="49.6" height="8.5"/>
<rect class="r" x="1205.7" y="588.4" width="34.2" height="7.6"/>
<rect class="r" x="1074.6" y="614.5" width="49.2" height="9.4"/>
<rect class="r" x="1201.6" y="615.4" width="34.2" height="7.6"/>
<g class="n">
<text class="s" x="1069.4" y="383.2">RX ATMEGA/TX LORA</text><text class="s" x="1191.6" y="383.2">GND</text>
<text class="s" x="1069.4" y="410.5">TX ATMEGA/RX LORA</text><text class="s" x="1195.5" y="410.5">GND</text>
<text x="1098.8" y="437.4">TXD2</text><text class="s" x="1214.6" y="437.4">GND</text>
<text x="1098.8" y="472.2">RXD2</text><text class="s" x="1219.1" y="472.2">GND</text>
<text class="s" x="1067.2" y="526.4">RX ATMEGA/TX NEXTION</text><text class="s" x="1222.8" y="526.4">GND</text>
<text class="s" x="1067.2" y="561.1">TX ATMEGA/RX NEXTION</text><text class="s" x="1222.8" y="561.1">GND</text>
<text x="1094.9" y="592.3">TXD1</text><text class="s" x="1222.8" y="592.3">GND</text>
<text x="1099.2" y="619.2">RXD1</text><text class="s" x="1218.7" y="619.2">GND</text>
</g>
<path class="k" d="M1015.9,607V615.5M1015.9,639.5V673.4M1039.1,603.4V607M1039.1,631V673.4"/>
<use href="#rv" x="1015.9" y="615.5"/><use href="#rv" x="1039.1" y="607"/>
<use href="#led" transform="translate(1015.9 663.5) rotate(90)"/><use href="#led" transform="translate(1039.1 651.6) rotate(90)"/>
<text x="1021" y="618">R23</text><text x="1044" y="614">R22</text><text x="1044" y="624">direnc330TH</text><text x="1021" y="627.6">direnc330TH</text><text x="1044" y="649">LED9</text><text x="1044" y="659">LEDTH</text><text x="1021" y="661">LED10</text><text x="1021" y="671">LEDTH</text>
<text class="m" transform="rotate(-90 1006 627)" x="1006" y="627">330</text><text class="m" transform="rotate(-90 1029 620)" x="1029" y="620">330</text><text class="m" transform="rotate(-90 1006 664)" x="1006" y="664">LED</text><text class="m" transform="rotate(-90 1030 654)" x="1030" y="654">LED</text>
<rect class="r" x="1011.9" y="561.9" width="7.9" height="45.1"/>
<rect class="r" x="1035.2" y="568.9" width="7.8" height="34.5"/>
<rect class="r" x="1011.9" y="673.4" width="7.9" height="34.4"/>
<rect class="r" x="1035.2" y="673.4" width="7.8" height="34.4"/>
<g class="n">
<text class="s" transform="rotate(-90 1015.9 584.5)" x="1015.9" y="584.5">ACS 5V</text>
<text class="s" transform="rotate(-90 1039.1 586.2)" x="1039.1" y="586.2">5V</text>
<text class="s" transform="rotate(-90 1015.9 690.6)" x="1015.9" y="690.6">GND</text>
<text class="s" transform="rotate(-90 1039.1 690.6)" x="1039.1" y="690.6">GND</text>
</g>
<text class="g" x="1108.4" y="653.6" style="font-size:16px">NEXTION LED</text>

<!-- ===== ACS712 ===== -->
<text class="g" x="1384.6" y="382.6" style="font-size:16px">ACS712</text>
<rect class="icb" x="1352.6" y="408.9" width="99.6" height="119.1"/>
<path class="k" d="M1333.9,439H1352.6M1333.9,449H1352.6M1333.9,458.8H1352.6M1333.9,468.7H1352.6M1333.9,478.6H1352.6M1452.2,418.5H1470.9M1452.2,439H1470.9M1452.2,488.5H1470.9"/>
<g class="pm"><text x="1360" y="439">FILTER</text><text x="1360" y="449">IP+</text><text x="1360" y="458.8">IP+</text><text x="1360" y="468.7">IP-</text><text x="1360" y="478.6">IP-</text><text class="e" x="1445" y="418.5">VCC</text><text class="e" x="1445" y="439">VIOUT</text><text class="e" x="1445" y="488.5">GND</text></g>
<g class="pn"><text x="1343" y="435">6</text><text x="1343" y="445.3">1</text><text x="1343" y="455">2</text><text x="1343" y="465">4</text><text x="1343" y="474.8">3</text><text x="1461.5" y="414.6">8</text><text x="1461.5" y="435">7</text><text x="1461.5" y="484.6">5</text></g>
<text x="1353.4" y="404.6">AM1</text><text x="1353.4" y="533">acs712</text>
<path class="w" d="M1313.2,449H1333.9M1321.6,449V458.8H1333.9M1324.8,473.6H1333.1M1333.1,468.7V478.6M1470.9,418.5H1511.2M1511.2,379V390.4M1511.2,398.2V425.8M1470.9,439H1480.3V452.6H1457.1V542.2H1321.8M1345.1,542.2V569.7M1345.1,577.3V588.7M1470.9,488.5H1495.8V607.7H1450.4M1495.8,487.7V488.5M1412,607.7H1441.7"/>
<use href="#cv" x="1511.2" y="394.3"/><use href="#cv" x="1345.1" y="573.5"/><use href="#chz" x="1445.7" y="607.7"/>
<use href="#d" x="1321.6" y="449"/><use href="#d" x="1333.1" y="473.6"/><use href="#d" x="1511.2" y="418.5"/><use href="#d" x="1345.1" y="542.2"/><use href="#d" x="1495.8" y="488.5"/>
<text class="m" transform="rotate(-90 1494.6 389.7)" x="1494.6" y="389.7">100nf</text><text x="1518.7" y="384.9">C11</text><text x="1518.7" y="394.5">TH cap 100N</text>
<text class="m" transform="rotate(90 1360.1 574.6)" x="1360.1" y="574.6">10nf</text><text x="1366.9" y="571.8">C18</text><text x="1366.9" y="581.6">TH cap 10Nf</text>
<text x="1439.4" y="581.6">C19</text><text x="1440.2" y="591.5">1nf</text><text x="1439.4" y="620.3">TH cap 1Nf</text>
<g class="pn"><text x="1506" y="384">2</text><text x="1506" y="404">1</text><text x="1341" y="562">1</text><text x="1341" y="584">2</text><text x="1435" y="603.5">1</text><text x="1455" y="603.5">2</text></g>
<rect class="r" x="1289.5" y="435.4" width="43.6" height="7.1"/>
<rect class="r" x="1279.3" y="445.6" width="33.9" height="6.8"/>
<rect class="r" x="1275.6" y="468.8" width="49.2" height="9.7"/>
<rect class="r" x="1507.4" y="345.1" width="7.6" height="33.9"/>
<rect class="r" x="1507.4" y="425.8" width="7.6" height="34.4"/>
<rect class="r" x="1492" y="453.2" width="7.5" height="34.7"/>
<rect class="r" x="1291" y="537.5" width="30.8" height="9.4"/>
<rect class="r" x="1341.4" y="588.7" width="7.5" height="33.9"/>
<rect class="r" x="1368.4" y="604.2" width="43.6" height="7.1"/>
<g class="n">
<text class="s" x="1311.3" y="439">FILTER</text><text class="s" x="1296.2" y="449">5V</text><text x="1300.2" y="473.6">ACS 5V</text>
<text class="s" transform="rotate(-90 1511.2 362)" x="1511.2" y="362">GND</text>
<text class="s" transform="rotate(-90 1511.2 443)" x="1511.2" y="443">5V</text>
<text class="s" transform="rotate(-90 1495.7 470.5)" x="1495.7" y="470.5">GND</text>
<text x="1306.4" y="542.2">A0</text>
<text class="s" transform="rotate(-90 1345.1 605.6)" x="1345.1" y="605.6">GND</text>
<text class="s" x="1390.2" y="607.7">FILTER</text>
</g>

<!-- ===== MCP1 ===== -->
<text class="g" x="297" y="521.8" style="font-size:15px">MCP1</text>
<rect class="icb" x="199.5" y="540.2" width="157.6" height="168"/>
<path class="k" d="M180,560.7h19.5M180,580.3h19.5M180,590.1h19.5M180,599.8h19.5M180,609.6h19.5M180,629.2h19.5M180,639h19.5M180,648.8h19.5M180,658.5h19.5M180,668.3h19.5M180,687.9h19.5M357.1,560.7h19.5M357.1,570.5h19.5M357.1,580.3h19.5M357.1,599.8h19.5M357.1,609.6h19.5M357.1,629.2h19.5M357.1,639h19.5"/>
<path class="ul" d="M206.6,585.3H239M206.6,595H239M206.6,604.8H239M206.6,653.6H217.3M206.6,663.4H234.2M322.3,595H350.6M322.3,604.8H350.6M335,624.3H350.6"/>
<g class="pm">
<text x="206.6" y="560.7">VDD</text><text x="206.6" y="580.3">RXCAN</text><text x="206.6" y="590.1">TX0RTS</text><text x="206.6" y="599.8">TX1RTS</text><text x="206.6" y="609.6">TX2RTS</text><text x="206.6" y="629.2">OSC1</text><text x="206.6" y="639">SCK</text><text x="206.6" y="648.8">SI</text><text x="206.6" y="658.5">CS</text><text x="206.6" y="668.3">RESET</text><text x="206.6" y="687.9">VSS</text>
<text class="e" x="350.6" y="560.7">TXCAN</text><text class="e" x="350.6" y="570.5">CLKOUT/SOF</text><text class="e" x="350.6" y="580.3">OSC2</text><text class="e" x="350.6" y="599.8">RX1BF</text><text class="e" x="350.6" y="609.6">RX0BF</text><text class="e" x="350.6" y="629.2">INT</text><text class="e" x="350.6" y="639">SO</text>
</g>
<g class="pn">
<text x="189.7" y="556.9">18</text><text x="189.7" y="576.5">2</text><text x="189.7" y="586.3">4</text><text x="189.7" y="596">5</text><text x="189.7" y="605.8">6</text><text x="189.7" y="625.4">8</text><text x="189.7" y="635.2">13</text><text x="189.7" y="645">14</text><text x="189.7" y="654.7">16</text><text x="189.7" y="664.5">17</text><text x="189.7" y="684.1">9</text>
<text x="366.8" y="556.9">1</text><text x="366.8" y="566.7">3</text><text x="366.8" y="576.5">7</text><text x="366.8" y="596">10</text><text x="366.8" y="605.8">11</text><text x="366.8" y="625.4">12</text><text x="366.8" y="635.2">15</text>
</g>
<text x="199.5" y="536.2">U5</text><text x="199.5" y="713">DIP18 MCP2515</text>
<use href="#x" x="180" y="590.1"/><use href="#x" x="180" y="599.8"/><use href="#x" x="180" y="609.6"/><use href="#x" x="376.6" y="570.5"/><use href="#x" x="376.6" y="599.8"/><use href="#x" x="376.6" y="609.6"/>
<path class="w" d="M99.7,665.9H102V668.3H104M128,668.3H180M376.6,560.7V557.4H389"/>
<use href="#rh" x="104" y="668.3"/>
<text x="109" y="646.3">R25</text><text x="114.3" y="656">10K</text><text x="109" y="678.6">THdirenç10k</text>
<rect class="r" x="130.2" y="555.8" width="49.8" height="9.8"/>
<rect class="r" x="130.2" y="575.4" width="49.8" height="9.8"/>
<rect class="r" x="144.2" y="625.3" width="35.8" height="7.8"/>
<rect class="r" x="144.2" y="635.1" width="35.8" height="7.8"/>
<rect class="r" x="140.3" y="645" width="39.7" height="7.6"/>
<rect class="r" x="145.8" y="654.7" width="34.2" height="7.6"/>
<rect class="r" x="137.7" y="684.1" width="42.3" height="7.6"/>
<rect class="r" x="56.5" y="662" width="43.2" height="7.8"/>
<rect class="r" x="389" y="552.5" width="49.3" height="9.8"/>
<rect class="r" x="376.6" y="576.4" width="36.7" height="7.7"/>
<rect class="r" x="376.6" y="625.3" width="41.6" height="7.8"/>
<rect class="r" x="376.6" y="635.1" width="39.6" height="7.8"/>
<g class="n">
<text x="155.1" y="560.7">ACS 5V</text><text x="155.1" y="580.3">RXD1</text>
<text class="s" x="162.1" y="629.2">OSC1</text><text class="s" x="162.1" y="639">SCK1</text><text class="s" x="160.2" y="648.8">MOSI1</text><text class="s" x="162.9" y="658.5">CS1</text><text class="s" x="158.9" y="687.9">GND</text>
<text class="s" x="78.1" y="665.9">ACS 5V</text>
<text x="413.7" y="557.4">TXD1</text><text class="s" x="395" y="580.3">OSC2</text><text class="s" x="397.4" y="629.2">INT1</text><text class="s" x="396.4" y="639">MISO1</text>
</g>
<rect class="ic" x="471.5" y="576.3" width="18.8" height="9.8"/>
<use href="#pc" x="476.2" y="581.2"/><use href="#pc" x="485.6" y="581.2"/>
<path class="k" d="M476.2,583V595.8M485.6,583V595.8"/>
<text x="471.5" y="571.6">J18</text><text x="490.3" y="603">klemens</text>
<rect class="r" x="471.5" y="595.8" width="9.1" height="43.8"/>
<rect class="r" x="481" y="595.8" width="9.1" height="43.8"/>
<g class="n"><text transform="rotate(-90 476 617.7)" x="476" y="617.7">CANL</text><text transform="rotate(-90 485.5 617.7)" x="485.5" y="617.7">CANH</text></g>
<rect class="ic" x="481.3" y="667.4" width="34.1" height="29.6"/>
<use href="#pc" x="488.6" y="677.5"/><use href="#pc" x="488.6" y="687"/>
<g class="pm"><text x="492.5" y="677.5">1</text><text x="492.5" y="687">2</text></g>
<g class="pn"><text x="476" y="673.5">1</text><text x="476" y="683">2</text></g>
<text x="481.3" y="663">J20</text><text x="481.3" y="702">2POS HEADER</text>
<path class="w" d="M481.3,677.5H439.3V700.8M439.3,724.8V750.4M481.3,687H454.6V789.3"/>
<use href="#rv" x="439.3" y="700.8"/>
<text class="m" transform="rotate(-90 427 713)" x="427" y="713">120</text><text x="442" y="704.6">R35</text><text x="442" y="714.2">TH DIRENC 120</text>
<rect x="331.7" y="740.8" width="78.3" height="59" fill="none" stroke="#0000ff" stroke-width=".9"/>
<path class="k" d="M311,750.4H331.7M318.7,769.9H331.7M320.7,779.8H331.7M307.7,789.3H331.7M370.7,731.2V740.8M370.7,799.8V812.7H365.2M410,750.4H422M410,789.3H422"/>
<g class="pm"><text x="338" y="750.4">TXD</text><text x="338" y="769.9">RXD</text><text x="338" y="779.8">S</text><text x="338" y="789.3">VREF</text><text x="378" y="750.4">CANH</text><text x="378" y="789.3">CANL</text><text class="m" transform="rotate(-90 370.5 756)" x="370.5" y="756">VCC</text><text class="m" transform="rotate(-90 370.5 785)" x="370.5" y="785">GND</text></g>
<g class="pn"><text x="322" y="746.5">1</text><text x="326" y="766">4</text><text x="326" y="776">8</text><text x="326" y="785.5">5</text><text x="366" y="733">3</text><text x="366" y="804">2</text><text x="416" y="746.5">7</text><text x="416" y="785.5">6</text></g>
<use href="#x" x="307.7" y="789.3"/>
<text x="422" y="735.3">U6</text><text x="422" y="745">TJA1050</text>
<path class="w" d="M422,750.4H466M422,789.3H470.2M462.7,750.4V773.8H589.6V800.9H779.7V819.8H949.8V765.7H934.8V750.4M462.7,789.3V800.9H566.3V819.8H760.3V793.1H795.7V804.7H930.4V789.3"/>
<use href="#d" x="439.3" y="750.4"/><use href="#d" x="462.7" y="750.4"/><use href="#d" x="454.6" y="789.3"/><use href="#d" x="462.7" y="789.3"/><use href="#d" x="648.3" y="800.9"/><use href="#d" x="713.8" y="819.8"/>
<rect class="r" x="320.7" y="726.4" width="50" height="9.6"/>
<rect class="r" x="261.2" y="745.6" width="49.8" height="9.5"/>
<rect class="r" x="269" y="765.1" width="49.7" height="9.5"/>
<rect class="r" x="279.7" y="775.9" width="41" height="7.8"/>
<rect class="r" x="323.6" y="808.9" width="41.6" height="7.6"/>
<rect class="r" x="466" y="745.6" width="44.8" height="9.5"/>
<rect class="r" x="470.2" y="784.5" width="43.2" height="9.6"/>
<g class="n"><text x="345.7" y="731.2">ACS 5V</text><text x="286.1" y="750.4">TXD1</text><text x="293.9" y="769.9">RXD1</text><text class="s" x="300.2" y="779.8">GND</text><text class="s" x="344.4" y="812.7">GND</text><text x="488.4" y="750.4">CANH</text><text x="491.8" y="789.3">CANL</text></g>
<path class="w" d="M94.5,739V773.8M94.5,739H126M134,739H198.5M94.5,773.8H122M130,773.8H168.6V777.5H199.5M168.6,739V754M168.6,763.5V777.5"/>
<use href="#chz" x="130" y="739"/><use href="#chz" x="126" y="773.8"/>
<use href="#d" x="94.5" y="750.6"/><use href="#d" x="144.9" y="739"/><use href="#d" x="168.6" y="739"/><use href="#d" x="141.3" y="773.8"/><use href="#d" x="168.6" y="777.5"/>
<rect x="162.5" y="757" width="12.2" height="3.4" fill="none" stroke="#0000ff" stroke-width=".8"/>
<path class="b" d="M162.5,754H174.7M162.5,763.5H174.7"/>
<text x="122.1" y="713">C20</text><text x="123.1" y="722.6">22nf</text><text x="118.2" y="752">C22</text><text x="118.2" y="752">TH cap 22Nf</text><text x="119.8" y="757.5">22nf</text><text x="118.2" y="786.4">TH cap 22Nf</text><text x="176" y="752.4">OSC3</text><text x="176" y="762.4">16Mhz Kristal Osilatör</text>
<g class="pn"><text x="116" y="735">1</text><text x="144" y="735">2</text><text x="112" y="769.5">1</text><text x="141" y="769.5">2</text></g>
<rect class="r" x="56.5" y="745.9" width="38" height="9.5"/>
<rect class="r" x="198.5" y="735.2" width="35.7" height="7.7"/>
<rect class="r" x="199.5" y="773.6" width="36.4" height="7.8"/>
<g class="n"><text x="75.5" y="750.6">GND</text><text class="s" x="216.4" y="739">OSC1</text><text class="s" x="217.7" y="777.5">OSC2</text></g>
<path class="w" d="M267.7,789.4V799.4M267.7,807V819M137,800.9V811.6M137,819.2V830.6"/>
<use href="#cv" x="267.7" y="803.2"/><use href="#cv" x="137" y="815.4"/>
<text class="m" transform="rotate(-90 252 803)" x="252" y="803">100nf</text><text x="275.8" y="794.2">C38</text><text x="275.8" y="804.7">TH cap 100Nf</text>
<text class="m" transform="rotate(-90 120.8 814.2)" x="120.8" y="814.2">100nf</text><text x="144.9" y="806">C39</text><text x="144.9" y="816">TH cap 100Nf</text>
<rect class="r" x="218.6" y="784.6" width="49.1" height="9.6"/>
<rect class="r" x="230" y="814.2" width="37.7" height="9.6"/>
<rect class="r" x="87.7" y="796" width="49.3" height="9.8"/>
<rect class="r" x="98.7" y="825.8" width="38.3" height="9.6"/>
<g class="n"><text x="243.2" y="789.4">ACS 5V</text><text x="248.8" y="819">GND</text><text x="112.3" y="800.9">ACS 5V</text><text x="117.8" y="830.6">GND</text></g>

<!-- ===== MCP2 ===== -->
<text class="g" x="729.7" y="525" style="font-size:16px">MCP2</text>
<rect class="icb" x="695.7" y="537.8" width="158" height="168.2"/>
<path class="k" d="M676.3,558h19.4M676.3,577.6h19.4M676.3,587.4h19.4M676.3,597.2h19.4M676.3,607h19.4M676.3,626.5h19.4M676.3,636.3h19.4M676.3,646.1h19.4M676.3,655.9h19.4M676.3,665.7h19.4M676.3,685.5h19.4M853.7,558h19.4M853.7,567.8h19.4M853.7,577.6h19.4M853.7,597.2h19.4M853.7,607h19.4M853.7,626.5h19.4M853.7,636.3h19.4"/>
<path class="ul" d="M703,582.6H735.5M703,592.3H735.5M703,602.1H735.5M703,651H713.7M703,660.8H730.6M818.7,592.3H847M818.7,602.1H847M831.4,621.6H847"/>
<g class="pm">
<text x="703" y="558">VDD</text><text x="703" y="577.6">RXCAN</text><text x="703" y="587.4">TX0RTS</text><text x="703" y="597.2">TX1RTS</text><text x="703" y="607">TX2RTS</text><text x="703" y="626.5">OSC1</text><text x="703" y="636.3">SCK</text><text x="703" y="646.1">SI</text><text x="703" y="655.9">CS</text><text x="703" y="665.7">RESET</text><text x="703" y="685.5">VSS</text>
<text class="e" x="847" y="558">TXCAN</text><text class="e" x="847" y="567.8">CLKOUT/SOF</text><text class="e" x="847" y="577.6">OSC2</text><text class="e" x="847" y="597.2">RX1BF</text><text class="e" x="847" y="607">RX0BF</text><text class="e" x="847" y="626.5">INT</text><text class="e" x="847" y="636.3">SO</text>
</g>
<g class="pn">
<text x="686" y="554.2">18</text><text x="686" y="573.8">2</text><text x="686" y="583.6">4</text><text x="686" y="593.4">5</text><text x="686" y="603.2">6</text><text x="686" y="622.7">8</text><text x="686" y="632.5">13</text><text x="686" y="642.3">14</text><text x="686" y="652.1">16</text><text x="686" y="661.9">17</text><text x="686" y="681.7">9</text>
<text x="863.4" y="554.2">1</text><text x="863.4" y="564">3</text><text x="863.4" y="573.8">7</text><text x="863.4" y="593.4">10</text><text x="863.4" y="603.2">11</text><text x="863.4" y="622.7">12</text><text x="863.4" y="632.5">15</text>
</g>
<text x="695.7" y="533.5">U4</text><text x="695.7" y="710.5">DIP18 MCP2515</text>
<use href="#x" x="676.3" y="587.4"/><use href="#x" x="676.3" y="597.2"/><use href="#x" x="676.3" y="607"/><use href="#x" x="873.1" y="567.8"/><use href="#x" x="873.1" y="597.2"/><use href="#x" x="873.1" y="607"/>
<path class="w" d="M667.3,626.5H676.3M593.6,665.7H606.3M630.3,665.7H676.3M873.1,558V557.4H888.7M873.1,577.6V576.8H876.4M593.6,686.3V697M593.6,704.6V715.9"/>
<use href="#rh" x="606.3" y="665.7"/><use href="#cv" x="593.6" y="700.8"/>
<text x="606.9" y="644">R24</text><text x="617" y="653.8">10K</text><text x="606" y="676.4">THdirenç10k</text>
<text class="m" transform="rotate(-90 577.9 698.6)" x="577.9" y="698.6">100nf</text><text x="601.3" y="691.5">C37</text><text x="601.3" y="701.3">TH cap 100Nf</text>
<rect class="r" x="627" y="553.1" width="49.3" height="9.8"/>
<rect class="r" x="625.6" y="572.7" width="49.7" height="9.8"/>
<rect class="r" x="625" y="622.6" width="42.3" height="7.8"/>
<rect class="r" x="640.3" y="632.4" width="36" height="7.8"/>
<rect class="r" x="636.3" y="642.2" width="40" height="7.8"/>
<rect class="r" x="642.3" y="652" width="34" height="7.8"/>
<rect class="r" x="635" y="681.7" width="41.3" height="7.6"/>
<rect class="r" x="551.2" y="661.9" width="42.4" height="7.8"/>
<rect class="r" x="544.6" y="681.5" width="49" height="9.7"/>
<rect class="r" x="555.6" y="711" width="38" height="9.8"/>
<rect class="r" x="888.7" y="552.5" width="49.3" height="9.8"/>
<rect class="r" x="876.4" y="572.9" width="42.7" height="7.8"/>
<rect class="r" x="873.1" y="622.6" width="42" height="7.8"/>
<rect class="r" x="873.1" y="632.4" width="40.7" height="7.8"/>
<g class="n">
<text x="651.7" y="558">ACS 5V</text><text x="650.5" y="577.6">RXD2</text>
<text class="s" x="646.2" y="626.5">OSC1-2</text><text class="s" x="658.3" y="636.3">SCK2</text><text class="s" x="656.3" y="646.1">MOSI2</text><text class="s" x="659.3" y="655.9">CS2</text><text class="s" x="655.7" y="685.5">GND</text>
<text class="s" x="572.4" y="665.8">ACS 5V</text><text x="569.1" y="686.3">ACS 5V</text><text x="574.6" y="715.9">GND</text>
<text x="913.4" y="557.4">TXD2</text><text class="s" x="897.8" y="576.8">OSC2-2</text><text class="s" x="894.1" y="626.5">INT2</text><text class="s" x="893.5" y="636.3">MISO2</text>
</g>
<rect class="ic" x="862" y="649.7" width="19.4" height="10"/>
<use href="#pc" x="866.4" y="654.7"/><use href="#pc" x="876.2" y="654.7"/>
<path class="k" d="M866.4,656.5V669.7M876.2,656.5V669.7"/>
<text x="862" y="645">J17</text><text x="881.5" y="677.8">klemens</text>
<rect class="r" x="862" y="669.7" width="9.4" height="47.8"/>
<rect class="r" x="872" y="669.7" width="9.4" height="47.8"/>
<g class="n"><text transform="rotate(-90 866.7 693.6)" x="866.7" y="693.6">CANL2</text><text transform="rotate(-90 876.7 693.6)" x="876.7" y="693.6">CANH2</text></g>
<rect class="ic" x="941.8" y="671.2" width="34" height="29.6"/>
<use href="#pc" x="948.9" y="680.8"/><use href="#pc" x="948.9" y="690.8"/>
<g class="pm"><text x="952.5" y="680.8">1</text><text x="952.5" y="690.8">2</text></g>
<g class="pn"><text x="937" y="677">1</text><text x="937" y="687">2</text></g>
<text x="941.8" y="667">J21</text><text x="941.4" y="705.7">2POS HEADER</text>
<path class="w" d="M941.8,680.8H903.1V686M903.1,710V719.7H934.8V750.4M941.8,690.8H927.4V712H942.5V781H930.4V789.3"/>
<use href="#rv" x="903.1" y="686"/>
<text class="m" transform="rotate(-90 891.4 700.8)" x="891.4" y="700.8">120</text><text x="909.1" y="693">R33</text><text x="909.1" y="703">TH DIRENC 120</text>
<rect x="838.1" y="741.3" width="78.3" height="58.5" fill="none" stroke="#0000ff" stroke-width=".9"/>
<path class="k" d="M813.7,750.4H838.1M821.4,769.9H838.1M828.1,779.8H838.1M814,789.3H838.1M877.1,731.2V741.3M877.1,799.8V812.7H872.1M916.4,750.4H946.4M916.4,789.3H934.1"/>
<g class="pm"><text x="845" y="750.4">TXD</text><text x="845" y="769.9">RXD</text><text x="845" y="779.8">S</text><text x="845" y="789.3">VREF</text><text x="884" y="750.4">CANH</text><text x="884" y="789.3">CANL</text><text class="m" transform="rotate(-90 877 756)" x="877" y="756">VCC</text><text class="m" transform="rotate(-90 877 785)" x="877" y="785">GND</text></g>
<g class="pn"><text x="829" y="746.5">1</text><text x="833" y="766">4</text><text x="833" y="776">8</text><text x="833" y="785.5">5</text><text x="873" y="733">3</text><text x="873" y="804">2</text><text x="922" y="746.5">7</text><text x="922" y="785.5">6</text></g>
<use href="#x" x="814" y="789.3"/>
<use href="#d" x="934.8" y="750.4"/><use href="#d" x="930.4" y="789.3"/>
<text x="928" y="735.3">U7</text><text x="928" y="745">TJA1050</text>
<rect class="r" x="827.4" y="726.4" width="49.7" height="9.6"/>
<rect class="r" x="764.7" y="745.6" width="49" height="9.5"/>
<rect class="r" x="772" y="765.1" width="49.4" height="9.5"/>
<rect class="r" x="786.4" y="775.9" width="41.7" height="7.8"/>
<rect class="r" x="830.4" y="808.9" width="41.7" height="7.6"/>
<rect class="r" x="946.4" y="745.6" width="48.4" height="9.5"/>
<rect class="r" x="934.1" y="784.5" width="47.7" height="9.6"/>
<g class="n"><text x="852.2" y="731.2">ACS 5V</text><text x="789.2" y="750.4">TXD2</text><text x="796.7" y="769.9">RXD2</text><text class="s" x="807.2" y="779.8">GND</text><text class="s" x="851.2" y="812.7">GND</text><text x="970.6" y="750.4">CANH2</text><text x="958" y="789.3">CANL2</text></g>
<path class="w" d="M591.3,739V773.8M591.3,739H624M632,739H695.3M591.3,773.8H619.6M627.6,773.8H665.6V777.5H696.3M665.6,739V754M665.6,763.5V777.5"/>
<use href="#chz" x="628" y="739"/><use href="#chz" x="623.6" y="773.8"/>
<use href="#d" x="591.3" y="750.6"/><use href="#d" x="642.6" y="739"/><use href="#d" x="665.6" y="739"/><use href="#d" x="638.6" y="773.8"/><use href="#d" x="665.6" y="777.5"/>
<rect x="659.5" y="757" width="12.2" height="3.4" fill="none" stroke="#0000ff" stroke-width=".8"/>
<path class="b" d="M659.5,754H671.7M659.5,763.5H671.7"/>
<text x="619.6" y="713">C21</text><text x="620.6" y="722.6">22nf</text><text x="615.6" y="752">C23</text><text x="615.6" y="752">TH cap 22Nf</text><text x="617" y="757.5">22nf</text><text x="615.6" y="786.4">TH cap 22Nf</text><text x="673.6" y="752.4">OSC4</text><text x="673.6" y="762.4">16Mhz Kristal Osilatör</text>
<g class="pn"><text x="614" y="735">1</text><text x="642" y="735">2</text><text x="609" y="769.5">1</text><text x="638" y="769.5">2</text></g>
<rect class="r" x="553.6" y="745.9" width="37.7" height="9.5"/>
<rect class="r" x="695.3" y="735.2" width="42.7" height="7.7"/>
<rect class="r" x="696.3" y="773.6" width="42.7" height="7.8"/>
<g class="n"><text x="572.4" y="750.6">GND</text><text class="s" x="716.6" y="739">OSC1-2</text><text class="s" x="717.6" y="777.5">OSC2-2</text></g>
<path class="w" d="M1007.5,800.9V811.6M1007.5,819.2V830.6"/>
<use href="#cv" x="1007.5" y="815.4"/>
<text class="m" transform="rotate(-90 992 815)" x="992" y="815">100nf</text><text x="1015" y="806">C40</text><text x="1015" y="816">TH cap 100Nf</text>
<rect class="r" x="958.1" y="796" width="49.4" height="9.8"/>
<rect class="r" x="969.8" y="825.8" width="37.7" height="9.6"/>
<g class="n"><text x="982.8" y="800.9">ACS 5V</text><text x="988.7" y="830.6">GND</text></g>
<rect class="r" x="643.6" y="800.9" width="9.4" height="48.9"/>
<rect class="r" x="709.2" y="819.8" width="9.9" height="47.7"/>
<g class="n"><text transform="rotate(-90 648.3 825.3)" x="648.3" y="825.3">CANH3</text><text transform="rotate(-90 714.1 843.6)" x="714.1" y="843.6">CANL3</text></g>

<!-- ===== RELAYS ===== -->
<rect x="1246.2" y="686.4" width="58.7" height="59.2" fill="none" stroke="#0000ff" stroke-width=".9"/>
<path class="w" d="M1205.5,692.4H1224.7V703.9M1205.5,703.9H1236.6M1224.7,739L1236.6,735.8M1205.5,738.4L1224.7,739M1224.7,739V754M1224.7,785V843H1190.2V835.4M1190.2,811.4V773.6M1140,770.2H1146.8M1170.8,770.2H1179.2V773.6H1215.1M1224.7,827.7H1248.2M1325.4,696.5V725.7H1349M1332.9,735.8V706.1H1349M1315.2,716.1H1349"/>
<path class="k" d="M1236.6,703.9V696.5H1256.5M1236.6,735.8H1256.5M1295,696.5H1325.4M1314,735.8H1332.9M1349,706.1H1358.5M1349,716.1H1358.5M1349,725.7H1358.5M1293,716.1H1315.2"/>
<path class="b" d="M1256.5,696.5H1265.7V713.3M1265.7,718.8V735.8H1256.5M1284.4,696.5H1295M1284.4,696.5V704.5M1284.4,710L1293,716.1M1284.4,725V735.8H1314"/>
<rect x="1260.5" y="713.3" width="10.3" height="5.5" fill="none" stroke="#0000ff" stroke-width=".8"/>
<path d="M1281.5,704.5H1287.3L1284.4,710ZM1281.5,725H1287.3L1284.4,719Z" fill="#0000ff"/>
<path class="b" d="M1205.5,703.9V738.4"/>
<path d="M1201.5,725.2H1209.5L1205.5,720.2ZM1201.5,720.2H1209.5" fill="none" stroke="#0000ff" stroke-width=".8"/>
<path d="M1215.1,763.6V783.9" stroke="#0000ff" stroke-width="2.2"/>
<path class="b" d="M1215.1,768L1224.7,762.5V754M1215.1,779L1224.7,785"/>
<path d="M1220.5,784.5L1224.7,785L1222.5,781Z" fill="#0000ff"/>
<use href="#rh" x="1146.8" y="770.2"/><use href="#rv" x="1190.2" y="811.4"/>
<use href="#d" x="1224.7" y="703.9"/><use href="#d" x="1236.6" y="703.9"/><use href="#d" x="1224.7" y="739"/><use href="#d" x="1224.7" y="754"/><use href="#d" x="1190.2" y="773.6"/><use href="#d" x="1190.2" y="805"/><use href="#d" x="1224.7" y="827.7"/><use href="#d" x="1315.2" y="716.1"/>
<rect class="ic" x="1358.8" y="701.2" width="9.6" height="29"/>
<use href="#pc" x="1363.4" y="706.1"/><use href="#pc" x="1363.4" y="716.1"/><use href="#pc" x="1363.4" y="725.7"/>
<g class="pn"><text x="1351" y="702">1</text><text x="1351" y="712">2</text><text x="1351" y="721.5">3</text><text x="1247.5" y="692">5</text><text x="1304" y="692">7</text><text x="1247.5" y="731.5">8</text><text x="1304" y="731.5">6</text><text x="1201" y="708">2</text><text x="1201" y="736">1</text><text x="1219" y="758">2</text><text x="1219" y="790">1</text></g>
<text x="1245.8" y="681">RLA1</text><text x="1245.8" y="752.2">Minirole6pin</text><text x="1358.5" y="697">J7</text><text x="1357.8" y="736">5mm 3pos klemens</text>
<text x="1211.7" y="721.6">D2</text><text x="1211.7" y="731.6">1N4148</text>
<text x="1146.8" y="748">R26</text><text x="1151.6" y="757.8">1K</text><text x="1146.8" y="780.1">DirencTH1K</text>
<text x="1228.6" y="757.1">Q1</text><text x="1228.6" y="766.8">BD139</text><text x="1217" y="757.5">C</text><text x="1202.5" y="769">B</text><text x="1218" y="788.4">E</text>
<text x="1194.8" y="816.8">R27</text><text class="m" transform="rotate(-90 1179 823)" x="1179" y="823">10K</text><text x="1194.8" y="826.8">THdirenç10k</text>
<text class="g" x="1307.3" y="761.9" style="font-size:15px">YavROLE1</text>
<rect class="r" x="1155.3" y="687.4" width="50.2" height="10"/>
<rect class="r" x="1086.4" y="765.2" width="53.6" height="9.8"/>
<rect class="r" x="1248.2" y="823" width="38.3" height="10"/>
<g class="n"><text x="1180.4" y="692.4">ACS 5V</text><text x="1113.2" y="770.1">RELAY1</text><text x="1267.3" y="828">GND</text></g>
<rect x="1261.6" y="849" width="59.4" height="59" fill="none" stroke="#0000ff" stroke-width=".9"/>
<path class="w" d="M1197.3,855.2H1217.1V866.8M1197.7,866.8H1251.9V859.1H1261.6M1217.1,901.3L1251.9,898.4M1197.7,901.3H1217.1M1217.1,901.3V916.2M1217.1,947V994.7H1182V986.3M1182,962.3V936.2M1143.4,936.2H1150.9M1174.9,936.2H1207.3M1217.1,975.3H1232.5M1360.2,816.4H1344.9V888.1H1378M1352.7,898.4V868.5H1378M1330.5,878.5H1378M1337,878.5V913.4H1380"/>
<path class="k" d="M1251.9,859.1H1271M1251.9,898.4H1271M1314,859.1H1344.9M1314,898.4H1352.7"/>
<path class="b" d="M1271,859.1H1281.2V875.6M1281.2,880.9V898.4H1271M1301.2,859.1H1314M1301.2,859.1V866.5M1301.2,871L1310.7,878.5H1330.5M1301.2,888V898.4H1314"/>
<rect x="1276.6" y="875.6" width="10.2" height="5.3" fill="none" stroke="#0000ff" stroke-width=".8"/>
<path d="M1298.3,866.5H1304.1L1301.2,871.5ZM1298.3,888H1304.1L1301.2,882Z" fill="#0000ff"/>
<path class="b" d="M1197.7,866.8V901.3"/>
<path d="M1193.7,888.1H1201.7L1197.7,882.6ZM1193.7,882.6H1201.7" fill="none" stroke="#0000ff" stroke-width=".8"/>
<path d="M1207.3,925.9V946" stroke="#0000ff" stroke-width="2.2"/>
<path class="b" d="M1207.3,930.5L1217.1,924.5V916.2M1207.3,941L1217.1,947"/>
<path d="M1213,946.5L1217.1,947L1215,943Z" fill="#0000ff"/>
<use href="#rh" x="1150.9" y="936.2"/><use href="#rv" x="1182" y="962.3"/>
<use href="#d" x="1217.1" y="866.8"/><use href="#d" x="1217.1" y="901.3"/><use href="#d" x="1217.1" y="916.2"/><use href="#d" x="1182" y="936.2"/><use href="#d" x="1217.1" y="975.3"/><use href="#d" x="1344.9" y="859.1"/><use href="#d" x="1330.5" y="878.5"/><use href="#d" x="1337" y="878.5"/>
<rect class="ic" x="1378" y="863.4" width="9.6" height="29.5"/>
<use href="#pc" x="1382.8" y="868.5"/><use href="#pc" x="1382.8" y="878.5"/><use href="#pc" x="1382.8" y="888.1"/>
<g class="pn"><text x="1369" y="864.5">1</text><text x="1369" y="874.5">2</text><text x="1369" y="884">3</text><text x="1263" y="854.5">5</text><text x="1320" y="854.5">7</text><text x="1263" y="894">8</text><text x="1320" y="894">6</text><text x="1193" y="870.5">2</text><text x="1193" y="898">1</text><text x="1211" y="920">2</text><text x="1211" y="952">1</text></g>
<text x="1261" y="843.9">RLA2</text><text x="1260" y="914.5">Minirole6pin</text><text x="1377.9" y="859">J10</text><text x="1377.9" y="898.6">5mm 3pos klemens</text>
<text x="1203.4" y="884.6">D3</text><text x="1203.4" y="894.3">1N4148</text>
<text x="1150.5" y="914">R30</text><text x="1157" y="923.7">1K</text><text x="1150.5" y="946.1">DirencTH1K</text>
<text x="1220.2" y="919.6">Q2</text><text x="1220.2" y="929.3">BD139</text><text x="1209.5" y="920">C</text><text x="1196" y="932">B</text><text x="1210.5" y="951">E</text>
<text x="1187" y="967.6">R34</text><text class="m" transform="rotate(-90 1170 974)" x="1170" y="974">10K</text><text x="1187" y="977.8">THdirenç10k</text>
<text class="g" x="1299.5" y="924" style="font-size:15px">YavROLE2</text>
<rect class="r" x="1147.8" y="850.2" width="49.5" height="10.1"/>
<rect class="r" x="1360.2" y="811.4" width="50.2" height="10.1"/>
<rect class="r" x="1380" y="908.5" width="54.7" height="9.8"/>
<rect class="r" x="1090.5" y="931.2" width="52.9" height="10.1"/>
<rect class="r" x="1232.5" y="970.2" width="38.3" height="10.1"/>
<g class="n"><text x="1172.5" y="855.2">ACS 5V</text><text x="1385.3" y="816.4">ACS 5V</text><text x="1407.3" y="913.4">ACS 5VL</text><text x="1117" y="936.2">RELAY2</text><text x="1251.6" y="975.3">GND</text></g>

<!-- ===== BOTTOM LEFT: J11..J16 ===== -->
<text x="82.8" y="909.9">tabancaklemens</text><text x="82.8" y="940.7">tabancaklemens</text><text x="82.8" y="975.8">tabancaklemens</text><text x="82.8" y="1010.5">tabancaklemens</text>
<rect class="ic" x="82.8" y="884.9" width="9.7" height="19.8"/><rect class="ic" x="82.8" y="915.7" width="9.7" height="19.8"/><rect class="ic" x="82.8" y="950.8" width="9.7" height="19.8"/><rect class="ic" x="82.8" y="985.5" width="9.7" height="19.8"/>
<use href="#pc" x="87.6" y="890"/><use href="#pc" x="87.6" y="899.8"/><use href="#pc" x="87.6" y="920.8"/><use href="#pc" x="87.6" y="930.6"/><use href="#pc" x="87.6" y="955.9"/><use href="#pc" x="87.6" y="965.7"/><use href="#pc" x="87.6" y="990.6"/><use href="#pc" x="87.6" y="1000.4"/>
<path class="w" d="M92.5,890H125.4M137,890H160.5M92.5,920.8H125.4M137,920.8H160.5M92.5,955.9H125.4M137,955.9H160.5M92.5,990.6H125.4M137,990.6H160.5"/>
<path class="k" d="M92.5,899.8H102.6M92.5,930.6H102.6M92.5,965.7H102.6M92.5,1000.4H102.6"/>
<path fill="none" stroke="#000" stroke-width=".8" d="M125.4,885.9h11.6v8.1h-11.6zM125.4,916.7h11.6v8.1h-11.6zM125.4,951.8h11.6v8.1h-11.6zM125.4,986.5h11.6v8.1h-11.6z"/>
<use href="#d" x="114.3" y="890"/><use href="#d" x="114.3" y="920.8"/><use href="#d" x="114.3" y="955.9"/><use href="#d" x="114.3" y="990.6"/>
<text x="82.8" y="880.4">J11</text><text x="117.2" y="880.4">F1</text><text x="82.8" y="911.2">J14</text><text x="117.2" y="911.2">F2</text><text x="82.8" y="946.3">J15</text><text x="117.2" y="946.3">F3</text><text x="82.8" y="981">J16</text><text x="117.2" y="981">F4</text>
<g class="pn"><text x="104" y="885.5">2 0</text><text x="156.5" y="885.5">1</text><text x="104" y="916.3">2 0</text><text x="156.5" y="916.3">1</text><text x="104" y="951.4">2 0</text><text x="156.5" y="951.4">1</text><text x="104" y="986.1">2 0</text><text x="156.5" y="986.1">1</text></g>
<rect class="r" x="160.5" y="886.2" width="31.8" height="7.7"/><rect class="r" x="102.6" y="895.9" width="41.9" height="7.7"/>
<rect class="r" x="160.5" y="917" width="31.8" height="7.7"/><rect class="r" x="102.6" y="926.7" width="41.9" height="7.7"/>
<rect class="r" x="160.5" y="952.1" width="31.8" height="7.7"/><rect class="r" x="102.6" y="961.8" width="41.9" height="7.7"/>
<rect class="r" x="160.5" y="986.8" width="31.8" height="7.7"/><rect class="r" x="102.6" y="996.5" width="41.9" height="7.7"/>
<g class="n">
<text class="s" x="176.4" y="890">12V</text><text class="s" x="123.5" y="899.8">GND</text>
<text class="s" x="176.4" y="920.8">12V</text><text class="s" x="123.5" y="930.6">GND</text>
<text class="s" x="176.4" y="955.9">12V</text><text class="s" x="123.5" y="965.7">GND</text>
<text class="s" x="176.4" y="990.6">12V</text><text class="s" x="123.5" y="1000.4">GND</text>
</g>
<text class="g" x="362" y="889.7" style="font-size:16px">NEXTION</text>
<rect class="ic" x="412.7" y="915" width="19.1" height="49.1"/>
<path class="k" d="M392.8,924.8H412.7M392.8,934.6H412.7M392.8,944.4H412.7M392.8,954.2H412.7"/>
<g class="pm"><text class="m" x="422.2" y="924.8">1</text><text class="m" x="422.2" y="934.6">2</text><text class="m" x="422.2" y="944.4">3</text><text class="m" x="422.2" y="954.2">4</text></g>
<text x="412.7" y="910.2">J12</text><text x="412.7" y="969.2">2.54 4pos header</text>
<path class="w" d="M315.8,944.4H322.5M346.5,944.4H392.8M358,944.4V994H373.3M397.3,994H419.8"/>
<use href="#rh" x="322.5" y="944.4"/><use href="#rh" x="373.3" y="994"/><use href="#d" x="358" y="944.4"/>
<text x="322.3" y="921.3">R29</text><text x="327" y="931">10K</text><text x="322.3" y="954.2">THdirenç10k</text><text x="372.4" y="971.8">R32</text><text x="377" y="982">20K</text><text x="372.4" y="1004.7">TH Direnç 20K</text>
<rect class="r" x="343.1" y="920" width="49.7" height="9.5"/>
<rect class="r" x="286.6" y="930.8" width="106.2" height="7.7"/>
<rect class="r" x="209.2" y="940.5" width="106.6" height="7.7"/>
<rect class="r" x="350.6" y="950.2" width="42.2" height="8.1"/>
<rect class="r" x="419.8" y="990" width="41.9" height="8"/>
<g class="n"><text x="368" y="924.8">ACS 5V</text><text class="s" x="339.7" y="934.6">RX ATMEGA/TX NEXTION</text><text class="s" x="262.5" y="944.4">TX ATMEGA/RX NEXTION</text><text class="s" x="371.7" y="954.2">GND</text><text class="s" x="440.8" y="994">GND</text></g>
<path class="w" d="M292.1,998.3H330.4V1006.8M330.4,1014.4V1029.1H292.1M292.1,998.3V1005.6M292.1,1013.2V1027.9"/>
<use href="#cv" x="292.1" y="1009.4"/><use href="#cv" x="330.4" y="1010.6"/>
<use href="#d" x="292.1" y="998.3"/><use href="#d" x="292.1" y="1027.9"/>
<text class="m" transform="rotate(-90 275.8 1012)" x="275.8" y="1012">10uf</text><text x="300.2" y="1009.5">C44</text><text x="300.2" y="1019.6">TH cap 10Uf</text><text class="m" transform="rotate(-90 314.2 1010)" x="314.2" y="1010">100nf</text><text x="338.5" y="1003.5">C43</text><text x="338.5" y="1013.7">TH cap 100Nf</text>
<rect class="r" x="242.4" y="993.2" width="49.7" height="10.3"/>
<rect class="r" x="249.8" y="1024" width="42.3" height="7.7"/>
<g class="n"><text x="267.2" y="998.3">ACS 5V</text><text class="s" x="271" y="1027.9">GND</text></g>
<rect class="ic" x="555.9" y="847.2" width="19.5" height="49.1"/>
<path class="k" d="M555.9,896.3V909.3H575.4V896.3M536.1,856.8H555.9M536.1,866.5H555.9M536.1,876.4H555.9M536.1,886.3H555.9M547.4,905.4H555.9"/>
<g class="pm"><text class="m" x="565.2" y="856.8">1</text><text class="m" x="565.2" y="866.5">2</text><text class="m" x="565.2" y="876.4">3</text><text class="m" x="565.2" y="886.3">4</text></g>
<text class="m" x="565.2" y="901.5">5</text>
<text x="555" y="842.6">J9</text><text x="554.2" y="915.6">2.54 5pos header</text>
<rect class="r" x="486.1" y="851.9" width="50" height="9.8"/>
<rect class="r" x="429.5" y="862.7" width="106.6" height="7.7"/>
<rect class="r" x="429.5" y="872.6" width="106.6" height="7.7"/>
<rect class="r" x="495.5" y="881.6" width="40.6" height="9.4"/>
<rect class="r" x="505.7" y="901.4" width="41.7" height="8"/>
<g class="n"><text x="511.1" y="856.8">ACS 5V</text><text class="s" x="482.8" y="866.5">RX ATMEGA/TX NEXTION</text><text class="s" x="482.8" y="876.4">TX ATMEGA/RX NEXTION</text><text x="515.8" y="886.3">DTR1</text><text class="s" x="526.5" y="905.4">GND</text></g>

<!-- ===== LoRa ===== -->
<text class="g" x="764.6" y="878" style="font-size:16px">LoRa</text>
<rect class="ic" x="811.4" y="908.8" width="30.1" height="74.4"/>
<path class="k" d="M791.2,919H811.4M791.2,928.8H811.4M791.2,938.5H811.4M791.2,948.5H811.4M790.2,958.2H811.4M791.2,968H811.4M791.2,977.7H811.4"/>
<g class="pm"><text x="818" y="919">01</text><text x="818" y="928.8">02</text><text x="818" y="938.5">03</text><text x="818" y="948.5">04</text><text x="818" y="958.2">05</text><text x="818" y="968">06</text><text x="818" y="977.7">07</text></g>
<g class="pn"><text x="800" y="915">01</text><text x="800" y="924.8">02</text><text x="800" y="934.5">03</text><text x="800" y="944.5">04</text><text x="800" y="954.2">05</text><text x="800" y="964">06</text><text x="800" y="973.7">07</text></g>
<use href="#x" x="790.2" y="958.2"/>
<text x="811.4" y="904.5">J8</text><text x="811.4" y="988.4">1X7 2.54 HEADER</text>
<path class="w" d="M684.2,932.5H691.1V940.1H699M723,940.1H791.2V938.5M729.7,940.1V978.9H706.4V1005H714M738,1005H756.7"/>
<use href="#rh" x="699" y="940.1"/><use href="#rh" x="714" y="1005"/><use href="#d" x="729.7" y="940.1"/>
<text x="697.9" y="918.2">R28</text><text x="703" y="927.6">10K</text><text x="697" y="951.5">THdirenç10k</text><text x="713.3" y="983.7">R31</text><text x="717.7" y="993.5">20K</text><text x="713.3" y="1016.2">TH Direnç 20K</text>
<rect class="r" x="749.5" y="914.8" width="41.7" height="8"/>
<rect class="r" x="749.5" y="924.8" width="41.7" height="7.9"/>
<rect class="r" x="590.2" y="928.5" width="94" height="8"/>
<rect class="r" x="697.2" y="944.6" width="94" height="7.7"/>
<rect class="r" x="736.5" y="963.3" width="54.7" height="9.4"/>
<rect class="r" x="749.5" y="973.8" width="41.7" height="7.7"/>
<rect class="r" x="756.7" y="1001" width="41.7" height="7.9"/>
<g class="n"><text class="s" x="770.4" y="918.8">GND</text><text class="s" x="770.4" y="928.8">GND</text><text class="s" x="637.2" y="932.5">TX ATMEGA/RX LORA</text><text class="s" x="744.2" y="948.5">RX ATMEGA/TX LORA</text><text x="763.8" y="968">ACS 5VL</text><text class="s" x="770.4" y="977.7">GND</text><text class="s" x="777.6" y="1005">GND</text></g>
<path class="w" d="M609.6,959.4H644.2V971.5M644.2,979.1V990.4H609.6M609.6,959.4V970.5M609.6,978.1V988.9"/>
<use href="#cv" x="609.6" y="974.3"/><use href="#cv" x="644.2" y="975.3"/>
<use href="#d" x="609.6" y="959.4"/><use href="#d" x="609.6" y="988.9"/>
<text class="m" transform="rotate(-90 592 978)" x="592" y="978">10uf</text><text x="616.8" y="970.3">C42</text><text x="616.8" y="980">TH cap 10Uf</text><text class="m" transform="rotate(-90 629.5 975)" x="629.5" y="975">100nf</text><text x="651.7" y="966.1">C41</text><text x="651.7" y="976.4">TH cap 100Nf</text>
<rect class="r" x="554.2" y="954.5" width="54.8" height="9.8"/>
<rect class="r" x="567.9" y="985" width="41.1" height="7.7"/>
<g class="n"><text x="581.6" y="959.4">ACS 5VL</text><text class="s" x="588.5" y="988.9">GND</text></g>
<rect class="ic" x="969.8" y="875.9" width="18.8" height="49.1"/>
<path class="k" d="M969.8,925V937.9H988.6V925M949.9,885.9H969.8M949.9,895.6H969.8M949.9,905.4H969.8M949.9,915.1H969.8M961.6,934.4H969.8"/>
<g class="pm"><text class="m" x="979.2" y="885.9">1</text><text class="m" x="979.2" y="895.6">2</text><text class="m" x="979.2" y="905.4">3</text><text class="m" x="979.2" y="915.1">4</text></g>
<text class="m" x="979.2" y="929.8">5</text>
<text x="969.8" y="871.1">J13</text><text x="968.8" y="944.7">2.54 5pos header</text>
<rect class="r" x="900.3" y="881" width="49.6" height="9.9"/>
<rect class="r" x="856.2" y="891.8" width="93.7" height="7.7"/>
<rect class="r" x="856.2" y="901.6" width="93.7" height="7.7"/>
<rect class="r" x="908.9" y="910.3" width="41" height="9.7"/>
<rect class="r" x="919.5" y="930.3" width="42.1" height="8.1"/>
<g class="n"><text x="925.1" y="885.9">ACS 5V</text><text class="s" x="903" y="895.6">RX ATMEGA/TX LORA</text><text class="s" x="903" y="905.4">TX ATMEGA/RX LORA</text><text x="929.4" y="915.1">DTR2</text><text class="s" x="940.5" y="934.4">GND</text></g>
</svg>
</body></html>
